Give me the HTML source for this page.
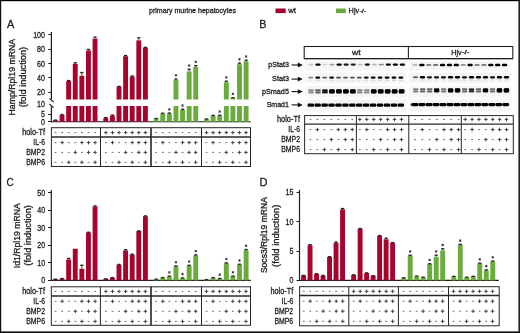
<!DOCTYPE html>
<html><head><meta charset="utf-8"><title>primary murine hepatocytes</title>
<style>
html,body{margin:0;padding:0;background:#fff;}
body{width:520px;height:333px;overflow:hidden;}
svg{display:block;font-family:"Liberation Sans",sans-serif;will-change:transform;}
svg text{stroke:#1e1e1e;stroke-width:0.3px;}
</style></head><body>
<svg width="520" height="333" viewBox="0 0 520 333" font-family="Liberation Sans, sans-serif">
<rect x="0" y="0" width="520" height="333" fill="#ffffff"/>
<rect x="0" y="0" width="520" height="1.2" fill="#000"/>
<rect x="0" y="0" width="1.2" height="333" fill="#111"/>
<rect x="518.4" y="0" width="1.6" height="333" fill="#222"/>
<rect x="0" y="331.4" width="520" height="1.6" fill="#111"/>
<text x="149" y="12.6" font-size="7.8" textLength="87" lengthAdjust="spacingAndGlyphs" fill="#1e1e1e">primary murine hepatocytes</text>
<rect x="275.5" y="8.5" width="10.2" height="4.6" fill="#a6032f"/>
<text x="288.2" y="13.4" font-size="7.8" textLength="7.8" lengthAdjust="spacingAndGlyphs" fill="#1e1e1e">wt</text>
<rect x="336" y="8.5" width="9.8" height="4.6" fill="#6aab3e"/>
<text x="348.6" y="13.4" font-size="8" textLength="10.6" lengthAdjust="spacingAndGlyphs" fill="#1e1e1e">Hjv</text>
<text x="359.4" y="12.6" font-size="5" textLength="6.6" lengthAdjust="spacingAndGlyphs" fill="#1e1e1e">-/-</text>
<text x="7" y="27.8" font-size="11.5" textLength="7.3" lengthAdjust="spacingAndGlyphs" fill="#1e1e1e">A</text>
<text x="259.2" y="27.9" font-size="11.5" textLength="7.2" lengthAdjust="spacingAndGlyphs" fill="#1e1e1e">B</text>
<text x="6.4" y="185.8" font-size="11.5" textLength="7.2" lengthAdjust="spacingAndGlyphs" fill="#1e1e1e">C</text>
<text x="259.4" y="185.9" font-size="11.5" textLength="8" lengthAdjust="spacingAndGlyphs" fill="#1e1e1e">D</text>
<g transform="translate(14.7,77.2) rotate(-90)">
<text x="0" y="0" font-size="8.6" text-anchor="middle" textLength="76.6" lengthAdjust="spacingAndGlyphs" fill="#1e1e1e">Hamp/Rpl19 mRNA</text>
</g>
<g transform="translate(25.9,77.1) rotate(-90)">
<text x="0" y="0" font-size="8.6" text-anchor="middle" textLength="60.5" lengthAdjust="spacingAndGlyphs" fill="#1e1e1e">(fold induction)</text>
</g>
<line x1="51.4" y1="32" x2="51.4" y2="99.6" stroke="#1e1e1e" stroke-width="1.2"/>
<line x1="51.4" y1="106.6" x2="51.4" y2="122.2" stroke="#1e1e1e" stroke-width="1.2"/>
<line x1="49.4" y1="98.4" x2="53.6" y2="102" stroke="#1e1e1e" stroke-width="1.1"/>
<line x1="49.4" y1="104" x2="53.6" y2="107.6" stroke="#1e1e1e" stroke-width="1.1"/>
<line x1="48.3" y1="34.5" x2="51.4" y2="34.5" stroke="#1e1e1e" stroke-width="1"/>
<text x="45" y="37.6" font-size="8.6" text-anchor="end" textLength="11.85" lengthAdjust="spacingAndGlyphs" fill="#1e1e1e">100</text>
<line x1="48.3" y1="49.5" x2="51.4" y2="49.5" stroke="#1e1e1e" stroke-width="1"/>
<text x="45" y="52.05" font-size="8.6" text-anchor="end" textLength="7.9" lengthAdjust="spacingAndGlyphs" fill="#1e1e1e">80</text>
<line x1="48.3" y1="63.5" x2="51.4" y2="63.5" stroke="#1e1e1e" stroke-width="1"/>
<text x="45" y="66.5" font-size="8.6" text-anchor="end" textLength="7.9" lengthAdjust="spacingAndGlyphs" fill="#1e1e1e">60</text>
<line x1="48.3" y1="77.5" x2="51.4" y2="77.5" stroke="#1e1e1e" stroke-width="1"/>
<text x="45" y="80.95" font-size="8.6" text-anchor="end" textLength="7.9" lengthAdjust="spacingAndGlyphs" fill="#1e1e1e">40</text>
<line x1="48.3" y1="92.5" x2="51.4" y2="92.5" stroke="#1e1e1e" stroke-width="1"/>
<text x="45" y="95.4" font-size="8.6" text-anchor="end" textLength="7.9" lengthAdjust="spacingAndGlyphs" fill="#1e1e1e">20</text>
<line x1="48" y1="114.5" x2="51.4" y2="114.5" stroke="#1e1e1e" stroke-width="1"/>
<text x="45" y="117" font-size="8.6" text-anchor="end" textLength="3.95" lengthAdjust="spacingAndGlyphs" fill="#1e1e1e">5</text>
<line x1="48" y1="121.5" x2="51.4" y2="121.5" stroke="#1e1e1e" stroke-width="1"/>
<text x="45" y="124.7" font-size="8.6" text-anchor="end" textLength="3.95" lengthAdjust="spacingAndGlyphs" fill="#1e1e1e">0</text>
<text x="45" y="106.6" font-size="8.6" text-anchor="end" textLength="7.9" lengthAdjust="spacingAndGlyphs" fill="#1e1e1e">10</text>
<line x1="50.9" y1="121.7" x2="250.8" y2="121.7" stroke="#1e1e1e" stroke-width="1.1"/>
<rect x="53" y="120.16" width="4.9" height="1.54" fill="#a6032f"/>
<rect x="53.85" y="119.4" width="3.2" height="1.3" fill="#222"/>
<rect x="59.6" y="115.08" width="4.9" height="6.62" fill="#a6032f"/>
<line x1="62.05" y1="114.15" x2="62.05" y2="115.08" stroke="#222" stroke-width="0.8"/>
<rect x="60.45" y="113.85" width="3.2" height="1.3" fill="#222"/>
<rect x="66.2" y="80.91" width="4.9" height="18.59" fill="#a6032f"/>
<rect x="66.2" y="106" width="4.9" height="15.7" fill="#a6032f"/>
<line x1="68.65" y1="80.19" x2="68.65" y2="80.91" stroke="#222" stroke-width="0.8"/>
<rect x="67.05" y="79.89" width="3.2" height="1.3" fill="#222"/>
<rect x="72.8" y="63.86" width="4.9" height="35.64" fill="#a6032f"/>
<rect x="72.8" y="106" width="4.9" height="15.7" fill="#a6032f"/>
<line x1="75.25" y1="62.42" x2="75.25" y2="63.86" stroke="#222" stroke-width="0.8"/>
<rect x="73.65" y="62.12" width="3.2" height="1.3" fill="#222"/>
<rect x="79.4" y="75.78" width="4.9" height="23.72" fill="#a6032f"/>
<rect x="79.4" y="106" width="4.9" height="15.7" fill="#a6032f"/>
<line x1="81.85" y1="72.17" x2="81.85" y2="75.78" stroke="#222" stroke-width="0.8"/>
<rect x="80.25" y="71.87" width="3.2" height="1.3" fill="#222"/>
<rect x="86" y="50.49" width="4.9" height="49.01" fill="#a6032f"/>
<rect x="86" y="106" width="4.9" height="15.7" fill="#a6032f"/>
<line x1="88.45" y1="49.05" x2="88.45" y2="50.49" stroke="#222" stroke-width="0.8"/>
<rect x="86.85" y="48.75" width="3.2" height="1.3" fill="#222"/>
<rect x="92.6" y="38.57" width="4.9" height="60.93" fill="#a6032f"/>
<rect x="92.6" y="106" width="4.9" height="15.7" fill="#a6032f"/>
<line x1="95.05" y1="36.77" x2="95.05" y2="38.57" stroke="#222" stroke-width="0.8"/>
<rect x="93.45" y="36.47" width="3.2" height="1.3" fill="#222"/>
<rect x="103.35" y="117.85" width="4.9" height="3.85" fill="#a6032f"/>
<line x1="105.8" y1="117.23" x2="105.8" y2="117.85" stroke="#222" stroke-width="0.8"/>
<rect x="104.2" y="116.93" width="3.2" height="1.3" fill="#222"/>
<rect x="109.95" y="115.54" width="4.9" height="6.16" fill="#a6032f"/>
<line x1="112.4" y1="114.77" x2="112.4" y2="115.54" stroke="#222" stroke-width="0.8"/>
<rect x="110.8" y="114.47" width="3.2" height="1.3" fill="#222"/>
<rect x="116.55" y="86.62" width="4.9" height="12.88" fill="#a6032f"/>
<rect x="116.55" y="106" width="4.9" height="15.7" fill="#a6032f"/>
<rect x="117.4" y="85.74" width="3.2" height="1.3" fill="#222"/>
<rect x="123.15" y="56.27" width="4.9" height="43.23" fill="#a6032f"/>
<rect x="123.15" y="106" width="4.9" height="15.7" fill="#a6032f"/>
<line x1="125.6" y1="55.19" x2="125.6" y2="56.27" stroke="#222" stroke-width="0.8"/>
<rect x="124" y="54.89" width="3.2" height="1.3" fill="#222"/>
<rect x="129.75" y="76.5" width="4.9" height="23" fill="#a6032f"/>
<rect x="129.75" y="106" width="4.9" height="15.7" fill="#a6032f"/>
<line x1="132.2" y1="75.64" x2="132.2" y2="76.5" stroke="#222" stroke-width="0.8"/>
<rect x="130.6" y="75.34" width="3.2" height="1.3" fill="#222"/>
<rect x="136.35" y="40.38" width="4.9" height="59.12" fill="#a6032f"/>
<rect x="136.35" y="106" width="4.9" height="15.7" fill="#a6032f"/>
<line x1="138.8" y1="37.49" x2="138.8" y2="40.38" stroke="#222" stroke-width="0.8"/>
<rect x="137.2" y="37.19" width="3.2" height="1.3" fill="#222"/>
<rect x="142.95" y="47.6" width="4.9" height="51.9" fill="#a6032f"/>
<rect x="142.95" y="106" width="4.9" height="15.7" fill="#a6032f"/>
<rect x="143.8" y="46.73" width="3.2" height="1.3" fill="#222"/>
<rect x="153.7" y="118.62" width="4.9" height="3.08" fill="#6aab3e"/>
<rect x="154.55" y="117.86" width="3.2" height="1.3" fill="#222"/>
<rect x="160.3" y="113.54" width="4.9" height="8.16" fill="#6aab3e"/>
<line x1="162.75" y1="112.92" x2="162.75" y2="113.54" stroke="#222" stroke-width="0.8"/>
<rect x="161.15" y="112.62" width="3.2" height="1.3" fill="#222"/>
<rect x="166.9" y="113.54" width="4.9" height="8.16" fill="#6aab3e"/>
<line x1="169.35" y1="112.77" x2="169.35" y2="113.54" stroke="#222" stroke-width="0.8"/>
<rect x="167.75" y="112.47" width="3.2" height="1.3" fill="#222"/>
<g stroke="#2a2a2a" stroke-width="0.85"><line x1="169.35" y1="108.12" x2="169.35" y2="110.62"/><line x1="168.22" y1="108.74" x2="170.47" y2="109.99"/><line x1="168.22" y1="109.99" x2="170.47" y2="108.74"/></g>
<rect x="173.5" y="80.12" width="4.9" height="19.38" fill="#6aab3e"/>
<rect x="173.5" y="106" width="4.9" height="15.7" fill="#6aab3e"/>
<line x1="175.95" y1="78.67" x2="175.95" y2="80.12" stroke="#222" stroke-width="0.8"/>
<rect x="174.35" y="78.37" width="3.2" height="1.3" fill="#222"/>
<g stroke="#2a2a2a" stroke-width="0.85"><line x1="175.95" y1="74.02" x2="175.95" y2="76.52"/><line x1="174.82" y1="74.65" x2="177.07" y2="75.9"/><line x1="174.82" y1="75.9" x2="177.07" y2="74.65"/></g>
<rect x="180.1" y="109.84" width="4.9" height="11.86" fill="#6aab3e"/>
<line x1="182.55" y1="108.92" x2="182.55" y2="109.84" stroke="#222" stroke-width="0.8"/>
<rect x="180.95" y="108.62" width="3.2" height="1.3" fill="#222"/>
<g stroke="#2a2a2a" stroke-width="0.85"><line x1="182.55" y1="104.27" x2="182.55" y2="106.77"/><line x1="181.42" y1="104.89" x2="183.67" y2="106.14"/><line x1="181.42" y1="106.14" x2="183.67" y2="104.89"/></g>
<rect x="186.7" y="71.45" width="4.9" height="28.05" fill="#6aab3e"/>
<rect x="186.7" y="106" width="4.9" height="15.7" fill="#6aab3e"/>
<line x1="189.15" y1="68.92" x2="189.15" y2="71.45" stroke="#222" stroke-width="0.8"/>
<rect x="187.55" y="68.62" width="3.2" height="1.3" fill="#222"/>
<g stroke="#2a2a2a" stroke-width="0.85"><line x1="189.15" y1="64.27" x2="189.15" y2="66.77"/><line x1="188.02" y1="64.89" x2="190.27" y2="66.14"/><line x1="188.02" y1="66.14" x2="190.27" y2="64.89"/></g>
<rect x="193.3" y="67.11" width="4.9" height="32.39" fill="#6aab3e"/>
<rect x="193.3" y="106" width="4.9" height="15.7" fill="#6aab3e"/>
<line x1="195.75" y1="65.31" x2="195.75" y2="67.11" stroke="#222" stroke-width="0.8"/>
<rect x="194.15" y="65.01" width="3.2" height="1.3" fill="#222"/>
<g stroke="#2a2a2a" stroke-width="0.85"><line x1="195.75" y1="60.66" x2="195.75" y2="63.16"/><line x1="194.62" y1="61.28" x2="196.87" y2="62.53"/><line x1="194.62" y1="62.53" x2="196.87" y2="61.28"/></g>
<rect x="204.05" y="119.08" width="4.9" height="2.62" fill="#6aab3e"/>
<rect x="204.9" y="118.32" width="3.2" height="1.3" fill="#222"/>
<rect x="210.65" y="115.69" width="4.9" height="6.01" fill="#6aab3e"/>
<line x1="213.1" y1="115.08" x2="213.1" y2="115.69" stroke="#222" stroke-width="0.8"/>
<rect x="211.5" y="114.78" width="3.2" height="1.3" fill="#222"/>
<rect x="217.25" y="115.69" width="4.9" height="6.01" fill="#6aab3e"/>
<line x1="219.7" y1="114.92" x2="219.7" y2="115.69" stroke="#222" stroke-width="0.8"/>
<rect x="218.1" y="114.62" width="3.2" height="1.3" fill="#222"/>
<g stroke="#2a2a2a" stroke-width="0.85"><line x1="219.7" y1="110.27" x2="219.7" y2="112.77"/><line x1="218.57" y1="110.9" x2="220.82" y2="112.15"/><line x1="218.57" y1="112.15" x2="220.82" y2="110.9"/></g>
<rect x="223.85" y="82.28" width="4.9" height="17.22" fill="#6aab3e"/>
<rect x="223.85" y="106" width="4.9" height="15.7" fill="#6aab3e"/>
<line x1="226.3" y1="80.84" x2="226.3" y2="82.28" stroke="#222" stroke-width="0.8"/>
<rect x="224.7" y="80.54" width="3.2" height="1.3" fill="#222"/>
<g stroke="#2a2a2a" stroke-width="0.85"><line x1="226.3" y1="76.19" x2="226.3" y2="78.69"/><line x1="225.18" y1="76.81" x2="227.43" y2="78.06"/><line x1="225.18" y1="78.06" x2="227.43" y2="76.81"/></g>
<rect x="230.45" y="97.82" width="4.9" height="1.68" fill="#6aab3e"/>
<rect x="230.45" y="106" width="4.9" height="15.7" fill="#6aab3e"/>
<rect x="231.3" y="97.01" width="3.2" height="1.3" fill="#222"/>
<g stroke="#2a2a2a" stroke-width="0.85"><line x1="232.9" y1="92.66" x2="232.9" y2="95.16"/><line x1="231.78" y1="93.29" x2="234.03" y2="94.54"/><line x1="231.78" y1="94.54" x2="234.03" y2="93.29"/></g>
<rect x="237.05" y="64.22" width="4.9" height="35.28" fill="#6aab3e"/>
<rect x="237.05" y="106" width="4.9" height="15.7" fill="#6aab3e"/>
<line x1="239.5" y1="62.78" x2="239.5" y2="64.22" stroke="#222" stroke-width="0.8"/>
<rect x="237.9" y="62.48" width="3.2" height="1.3" fill="#222"/>
<g stroke="#2a2a2a" stroke-width="0.85"><line x1="239.5" y1="58.13" x2="239.5" y2="60.63"/><line x1="238.38" y1="58.75" x2="240.62" y2="60"/><line x1="238.38" y1="60" x2="240.62" y2="58.75"/></g>
<rect x="243.65" y="61.33" width="4.9" height="38.17" fill="#6aab3e"/>
<rect x="243.65" y="106" width="4.9" height="15.7" fill="#6aab3e"/>
<line x1="246.1" y1="59.89" x2="246.1" y2="61.33" stroke="#222" stroke-width="0.8"/>
<rect x="244.5" y="59.59" width="3.2" height="1.3" fill="#222"/>
<g stroke="#2a2a2a" stroke-width="0.85"><line x1="246.1" y1="55.24" x2="246.1" y2="57.74"/><line x1="244.97" y1="55.86" x2="247.22" y2="57.11"/><line x1="244.97" y1="57.11" x2="247.22" y2="55.86"/></g>
<rect x="51.4" y="127.7" width="199.1" height="38.8" fill="none" stroke="#262626" stroke-width="1"/>
<line x1="51.4" y1="137" x2="250.5" y2="137" stroke="#2a2a2a" stroke-width="1.3"/>
<line x1="100.5" y1="127.7" x2="100.5" y2="166.5" stroke="#262626" stroke-width="1"/>
<line x1="151" y1="127.7" x2="151" y2="166.5" stroke="#262626" stroke-width="1.6"/>
<line x1="201.5" y1="127.7" x2="201.5" y2="166.5" stroke="#262626" stroke-width="1"/>
<text x="45" y="135.2" font-size="8.8" text-anchor="end" textLength="22.8" lengthAdjust="spacingAndGlyphs" fill="#1e1e1e">holo-Tf</text>
<text x="45" y="145.2" font-size="8.8" text-anchor="end" textLength="11.7" lengthAdjust="spacingAndGlyphs" fill="#1e1e1e">IL-6</text>
<text x="45" y="155" font-size="8.8" text-anchor="end" textLength="18.8" lengthAdjust="spacingAndGlyphs" fill="#1e1e1e">BMP2</text>
<text x="45" y="164.9" font-size="8.8" text-anchor="end" textLength="18.8" lengthAdjust="spacingAndGlyphs" fill="#1e1e1e">BMP6</text>
<line x1="54.7" y1="132.6" x2="56.5" y2="132.6" stroke="#444" stroke-width="0.8"/>
<line x1="61.28" y1="132.6" x2="63.08" y2="132.6" stroke="#444" stroke-width="0.8"/>
<line x1="67.86" y1="132.6" x2="69.66" y2="132.6" stroke="#444" stroke-width="0.8"/>
<line x1="74.44" y1="132.6" x2="76.24" y2="132.6" stroke="#444" stroke-width="0.8"/>
<line x1="81.02" y1="132.6" x2="82.82" y2="132.6" stroke="#444" stroke-width="0.8"/>
<line x1="87.6" y1="132.6" x2="89.4" y2="132.6" stroke="#444" stroke-width="0.8"/>
<line x1="94.18" y1="132.6" x2="95.98" y2="132.6" stroke="#444" stroke-width="0.8"/>
<line x1="54.7" y1="142.6" x2="56.5" y2="142.6" stroke="#444" stroke-width="0.8"/>
<line x1="60.38" y1="142.6" x2="63.98" y2="142.6" stroke="#333" stroke-width="0.9"/>
<line x1="62.18" y1="140.8" x2="62.18" y2="144.4" stroke="#333" stroke-width="0.9"/>
<line x1="67.86" y1="142.6" x2="69.66" y2="142.6" stroke="#444" stroke-width="0.8"/>
<line x1="74.44" y1="142.6" x2="76.24" y2="142.6" stroke="#444" stroke-width="0.8"/>
<line x1="80.12" y1="142.6" x2="83.72" y2="142.6" stroke="#333" stroke-width="0.9"/>
<line x1="81.92" y1="140.8" x2="81.92" y2="144.4" stroke="#333" stroke-width="0.9"/>
<line x1="86.7" y1="142.6" x2="90.3" y2="142.6" stroke="#333" stroke-width="0.9"/>
<line x1="88.5" y1="140.8" x2="88.5" y2="144.4" stroke="#333" stroke-width="0.9"/>
<line x1="93.28" y1="142.6" x2="96.88" y2="142.6" stroke="#333" stroke-width="0.9"/>
<line x1="95.08" y1="140.8" x2="95.08" y2="144.4" stroke="#333" stroke-width="0.9"/>
<line x1="54.7" y1="152.4" x2="56.5" y2="152.4" stroke="#444" stroke-width="0.8"/>
<line x1="61.28" y1="152.4" x2="63.08" y2="152.4" stroke="#444" stroke-width="0.8"/>
<line x1="67.86" y1="152.4" x2="69.66" y2="152.4" stroke="#444" stroke-width="0.8"/>
<line x1="73.54" y1="152.4" x2="77.14" y2="152.4" stroke="#333" stroke-width="0.9"/>
<line x1="75.34" y1="150.6" x2="75.34" y2="154.2" stroke="#333" stroke-width="0.9"/>
<line x1="81.02" y1="152.4" x2="82.82" y2="152.4" stroke="#444" stroke-width="0.8"/>
<line x1="86.7" y1="152.4" x2="90.3" y2="152.4" stroke="#333" stroke-width="0.9"/>
<line x1="88.5" y1="150.6" x2="88.5" y2="154.2" stroke="#333" stroke-width="0.9"/>
<line x1="93.28" y1="152.4" x2="96.88" y2="152.4" stroke="#333" stroke-width="0.9"/>
<line x1="95.08" y1="150.6" x2="95.08" y2="154.2" stroke="#333" stroke-width="0.9"/>
<line x1="54.7" y1="162.3" x2="56.5" y2="162.3" stroke="#444" stroke-width="0.8"/>
<line x1="61.28" y1="162.3" x2="63.08" y2="162.3" stroke="#444" stroke-width="0.8"/>
<line x1="66.96" y1="162.3" x2="70.56" y2="162.3" stroke="#333" stroke-width="0.9"/>
<line x1="68.76" y1="160.5" x2="68.76" y2="164.1" stroke="#333" stroke-width="0.9"/>
<line x1="74.44" y1="162.3" x2="76.24" y2="162.3" stroke="#444" stroke-width="0.8"/>
<line x1="80.12" y1="162.3" x2="83.72" y2="162.3" stroke="#333" stroke-width="0.9"/>
<line x1="81.92" y1="160.5" x2="81.92" y2="164.1" stroke="#333" stroke-width="0.9"/>
<line x1="87.6" y1="162.3" x2="89.4" y2="162.3" stroke="#444" stroke-width="0.8"/>
<line x1="93.28" y1="162.3" x2="96.88" y2="162.3" stroke="#333" stroke-width="0.9"/>
<line x1="95.08" y1="160.5" x2="95.08" y2="164.1" stroke="#333" stroke-width="0.9"/>
<line x1="104.1" y1="132.6" x2="107.7" y2="132.6" stroke="#333" stroke-width="0.9"/>
<line x1="105.9" y1="130.8" x2="105.9" y2="134.4" stroke="#333" stroke-width="0.9"/>
<line x1="110.68" y1="132.6" x2="114.28" y2="132.6" stroke="#333" stroke-width="0.9"/>
<line x1="112.48" y1="130.8" x2="112.48" y2="134.4" stroke="#333" stroke-width="0.9"/>
<line x1="117.26" y1="132.6" x2="120.86" y2="132.6" stroke="#333" stroke-width="0.9"/>
<line x1="119.06" y1="130.8" x2="119.06" y2="134.4" stroke="#333" stroke-width="0.9"/>
<line x1="123.84" y1="132.6" x2="127.44" y2="132.6" stroke="#333" stroke-width="0.9"/>
<line x1="125.64" y1="130.8" x2="125.64" y2="134.4" stroke="#333" stroke-width="0.9"/>
<line x1="130.42" y1="132.6" x2="134.02" y2="132.6" stroke="#333" stroke-width="0.9"/>
<line x1="132.22" y1="130.8" x2="132.22" y2="134.4" stroke="#333" stroke-width="0.9"/>
<line x1="137" y1="132.6" x2="140.6" y2="132.6" stroke="#333" stroke-width="0.9"/>
<line x1="138.8" y1="130.8" x2="138.8" y2="134.4" stroke="#333" stroke-width="0.9"/>
<line x1="143.58" y1="132.6" x2="147.18" y2="132.6" stroke="#333" stroke-width="0.9"/>
<line x1="145.38" y1="130.8" x2="145.38" y2="134.4" stroke="#333" stroke-width="0.9"/>
<line x1="105" y1="142.6" x2="106.8" y2="142.6" stroke="#444" stroke-width="0.8"/>
<line x1="110.68" y1="142.6" x2="114.28" y2="142.6" stroke="#333" stroke-width="0.9"/>
<line x1="112.48" y1="140.8" x2="112.48" y2="144.4" stroke="#333" stroke-width="0.9"/>
<line x1="118.16" y1="142.6" x2="119.96" y2="142.6" stroke="#444" stroke-width="0.8"/>
<line x1="124.74" y1="142.6" x2="126.54" y2="142.6" stroke="#444" stroke-width="0.8"/>
<line x1="130.42" y1="142.6" x2="134.02" y2="142.6" stroke="#333" stroke-width="0.9"/>
<line x1="132.22" y1="140.8" x2="132.22" y2="144.4" stroke="#333" stroke-width="0.9"/>
<line x1="137" y1="142.6" x2="140.6" y2="142.6" stroke="#333" stroke-width="0.9"/>
<line x1="138.8" y1="140.8" x2="138.8" y2="144.4" stroke="#333" stroke-width="0.9"/>
<line x1="143.58" y1="142.6" x2="147.18" y2="142.6" stroke="#333" stroke-width="0.9"/>
<line x1="145.38" y1="140.8" x2="145.38" y2="144.4" stroke="#333" stroke-width="0.9"/>
<line x1="105" y1="152.4" x2="106.8" y2="152.4" stroke="#444" stroke-width="0.8"/>
<line x1="111.58" y1="152.4" x2="113.38" y2="152.4" stroke="#444" stroke-width="0.8"/>
<line x1="118.16" y1="152.4" x2="119.96" y2="152.4" stroke="#444" stroke-width="0.8"/>
<line x1="123.84" y1="152.4" x2="127.44" y2="152.4" stroke="#333" stroke-width="0.9"/>
<line x1="125.64" y1="150.6" x2="125.64" y2="154.2" stroke="#333" stroke-width="0.9"/>
<line x1="131.32" y1="152.4" x2="133.12" y2="152.4" stroke="#444" stroke-width="0.8"/>
<line x1="137" y1="152.4" x2="140.6" y2="152.4" stroke="#333" stroke-width="0.9"/>
<line x1="138.8" y1="150.6" x2="138.8" y2="154.2" stroke="#333" stroke-width="0.9"/>
<line x1="143.58" y1="152.4" x2="147.18" y2="152.4" stroke="#333" stroke-width="0.9"/>
<line x1="145.38" y1="150.6" x2="145.38" y2="154.2" stroke="#333" stroke-width="0.9"/>
<line x1="105" y1="162.3" x2="106.8" y2="162.3" stroke="#444" stroke-width="0.8"/>
<line x1="111.58" y1="162.3" x2="113.38" y2="162.3" stroke="#444" stroke-width="0.8"/>
<line x1="117.26" y1="162.3" x2="120.86" y2="162.3" stroke="#333" stroke-width="0.9"/>
<line x1="119.06" y1="160.5" x2="119.06" y2="164.1" stroke="#333" stroke-width="0.9"/>
<line x1="124.74" y1="162.3" x2="126.54" y2="162.3" stroke="#444" stroke-width="0.8"/>
<line x1="130.42" y1="162.3" x2="134.02" y2="162.3" stroke="#333" stroke-width="0.9"/>
<line x1="132.22" y1="160.5" x2="132.22" y2="164.1" stroke="#333" stroke-width="0.9"/>
<line x1="137.9" y1="162.3" x2="139.7" y2="162.3" stroke="#444" stroke-width="0.8"/>
<line x1="143.58" y1="162.3" x2="147.18" y2="162.3" stroke="#333" stroke-width="0.9"/>
<line x1="145.38" y1="160.5" x2="145.38" y2="164.1" stroke="#333" stroke-width="0.9"/>
<line x1="155.3" y1="132.6" x2="157.1" y2="132.6" stroke="#444" stroke-width="0.8"/>
<line x1="161.88" y1="132.6" x2="163.68" y2="132.6" stroke="#444" stroke-width="0.8"/>
<line x1="168.46" y1="132.6" x2="170.26" y2="132.6" stroke="#444" stroke-width="0.8"/>
<line x1="175.04" y1="132.6" x2="176.84" y2="132.6" stroke="#444" stroke-width="0.8"/>
<line x1="181.62" y1="132.6" x2="183.42" y2="132.6" stroke="#444" stroke-width="0.8"/>
<line x1="188.2" y1="132.6" x2="190" y2="132.6" stroke="#444" stroke-width="0.8"/>
<line x1="194.78" y1="132.6" x2="196.58" y2="132.6" stroke="#444" stroke-width="0.8"/>
<line x1="155.3" y1="142.6" x2="157.1" y2="142.6" stroke="#444" stroke-width="0.8"/>
<line x1="160.98" y1="142.6" x2="164.58" y2="142.6" stroke="#333" stroke-width="0.9"/>
<line x1="162.78" y1="140.8" x2="162.78" y2="144.4" stroke="#333" stroke-width="0.9"/>
<line x1="168.46" y1="142.6" x2="170.26" y2="142.6" stroke="#444" stroke-width="0.8"/>
<line x1="175.04" y1="142.6" x2="176.84" y2="142.6" stroke="#444" stroke-width="0.8"/>
<line x1="180.72" y1="142.6" x2="184.32" y2="142.6" stroke="#333" stroke-width="0.9"/>
<line x1="182.52" y1="140.8" x2="182.52" y2="144.4" stroke="#333" stroke-width="0.9"/>
<line x1="187.3" y1="142.6" x2="190.9" y2="142.6" stroke="#333" stroke-width="0.9"/>
<line x1="189.1" y1="140.8" x2="189.1" y2="144.4" stroke="#333" stroke-width="0.9"/>
<line x1="193.88" y1="142.6" x2="197.48" y2="142.6" stroke="#333" stroke-width="0.9"/>
<line x1="195.68" y1="140.8" x2="195.68" y2="144.4" stroke="#333" stroke-width="0.9"/>
<line x1="155.3" y1="152.4" x2="157.1" y2="152.4" stroke="#444" stroke-width="0.8"/>
<line x1="161.88" y1="152.4" x2="163.68" y2="152.4" stroke="#444" stroke-width="0.8"/>
<line x1="168.46" y1="152.4" x2="170.26" y2="152.4" stroke="#444" stroke-width="0.8"/>
<line x1="174.14" y1="152.4" x2="177.74" y2="152.4" stroke="#333" stroke-width="0.9"/>
<line x1="175.94" y1="150.6" x2="175.94" y2="154.2" stroke="#333" stroke-width="0.9"/>
<line x1="181.62" y1="152.4" x2="183.42" y2="152.4" stroke="#444" stroke-width="0.8"/>
<line x1="187.3" y1="152.4" x2="190.9" y2="152.4" stroke="#333" stroke-width="0.9"/>
<line x1="189.1" y1="150.6" x2="189.1" y2="154.2" stroke="#333" stroke-width="0.9"/>
<line x1="193.88" y1="152.4" x2="197.48" y2="152.4" stroke="#333" stroke-width="0.9"/>
<line x1="195.68" y1="150.6" x2="195.68" y2="154.2" stroke="#333" stroke-width="0.9"/>
<line x1="155.3" y1="162.3" x2="157.1" y2="162.3" stroke="#444" stroke-width="0.8"/>
<line x1="161.88" y1="162.3" x2="163.68" y2="162.3" stroke="#444" stroke-width="0.8"/>
<line x1="167.56" y1="162.3" x2="171.16" y2="162.3" stroke="#333" stroke-width="0.9"/>
<line x1="169.36" y1="160.5" x2="169.36" y2="164.1" stroke="#333" stroke-width="0.9"/>
<line x1="175.04" y1="162.3" x2="176.84" y2="162.3" stroke="#444" stroke-width="0.8"/>
<line x1="180.72" y1="162.3" x2="184.32" y2="162.3" stroke="#333" stroke-width="0.9"/>
<line x1="182.52" y1="160.5" x2="182.52" y2="164.1" stroke="#333" stroke-width="0.9"/>
<line x1="188.2" y1="162.3" x2="190" y2="162.3" stroke="#444" stroke-width="0.8"/>
<line x1="193.88" y1="162.3" x2="197.48" y2="162.3" stroke="#333" stroke-width="0.9"/>
<line x1="195.68" y1="160.5" x2="195.68" y2="164.1" stroke="#333" stroke-width="0.9"/>
<line x1="204.7" y1="132.6" x2="208.3" y2="132.6" stroke="#333" stroke-width="0.9"/>
<line x1="206.5" y1="130.8" x2="206.5" y2="134.4" stroke="#333" stroke-width="0.9"/>
<line x1="211.28" y1="132.6" x2="214.88" y2="132.6" stroke="#333" stroke-width="0.9"/>
<line x1="213.08" y1="130.8" x2="213.08" y2="134.4" stroke="#333" stroke-width="0.9"/>
<line x1="217.86" y1="132.6" x2="221.46" y2="132.6" stroke="#333" stroke-width="0.9"/>
<line x1="219.66" y1="130.8" x2="219.66" y2="134.4" stroke="#333" stroke-width="0.9"/>
<line x1="224.44" y1="132.6" x2="228.04" y2="132.6" stroke="#333" stroke-width="0.9"/>
<line x1="226.24" y1="130.8" x2="226.24" y2="134.4" stroke="#333" stroke-width="0.9"/>
<line x1="231.02" y1="132.6" x2="234.62" y2="132.6" stroke="#333" stroke-width="0.9"/>
<line x1="232.82" y1="130.8" x2="232.82" y2="134.4" stroke="#333" stroke-width="0.9"/>
<line x1="237.6" y1="132.6" x2="241.2" y2="132.6" stroke="#333" stroke-width="0.9"/>
<line x1="239.4" y1="130.8" x2="239.4" y2="134.4" stroke="#333" stroke-width="0.9"/>
<line x1="244.18" y1="132.6" x2="247.78" y2="132.6" stroke="#333" stroke-width="0.9"/>
<line x1="245.98" y1="130.8" x2="245.98" y2="134.4" stroke="#333" stroke-width="0.9"/>
<line x1="205.6" y1="142.6" x2="207.4" y2="142.6" stroke="#444" stroke-width="0.8"/>
<line x1="211.28" y1="142.6" x2="214.88" y2="142.6" stroke="#333" stroke-width="0.9"/>
<line x1="213.08" y1="140.8" x2="213.08" y2="144.4" stroke="#333" stroke-width="0.9"/>
<line x1="218.76" y1="142.6" x2="220.56" y2="142.6" stroke="#444" stroke-width="0.8"/>
<line x1="225.34" y1="142.6" x2="227.14" y2="142.6" stroke="#444" stroke-width="0.8"/>
<line x1="231.02" y1="142.6" x2="234.62" y2="142.6" stroke="#333" stroke-width="0.9"/>
<line x1="232.82" y1="140.8" x2="232.82" y2="144.4" stroke="#333" stroke-width="0.9"/>
<line x1="237.6" y1="142.6" x2="241.2" y2="142.6" stroke="#333" stroke-width="0.9"/>
<line x1="239.4" y1="140.8" x2="239.4" y2="144.4" stroke="#333" stroke-width="0.9"/>
<line x1="244.18" y1="142.6" x2="247.78" y2="142.6" stroke="#333" stroke-width="0.9"/>
<line x1="245.98" y1="140.8" x2="245.98" y2="144.4" stroke="#333" stroke-width="0.9"/>
<line x1="205.6" y1="152.4" x2="207.4" y2="152.4" stroke="#444" stroke-width="0.8"/>
<line x1="212.18" y1="152.4" x2="213.98" y2="152.4" stroke="#444" stroke-width="0.8"/>
<line x1="218.76" y1="152.4" x2="220.56" y2="152.4" stroke="#444" stroke-width="0.8"/>
<line x1="224.44" y1="152.4" x2="228.04" y2="152.4" stroke="#333" stroke-width="0.9"/>
<line x1="226.24" y1="150.6" x2="226.24" y2="154.2" stroke="#333" stroke-width="0.9"/>
<line x1="231.92" y1="152.4" x2="233.72" y2="152.4" stroke="#444" stroke-width="0.8"/>
<line x1="237.6" y1="152.4" x2="241.2" y2="152.4" stroke="#333" stroke-width="0.9"/>
<line x1="239.4" y1="150.6" x2="239.4" y2="154.2" stroke="#333" stroke-width="0.9"/>
<line x1="244.18" y1="152.4" x2="247.78" y2="152.4" stroke="#333" stroke-width="0.9"/>
<line x1="245.98" y1="150.6" x2="245.98" y2="154.2" stroke="#333" stroke-width="0.9"/>
<line x1="205.6" y1="162.3" x2="207.4" y2="162.3" stroke="#444" stroke-width="0.8"/>
<line x1="212.18" y1="162.3" x2="213.98" y2="162.3" stroke="#444" stroke-width="0.8"/>
<line x1="217.86" y1="162.3" x2="221.46" y2="162.3" stroke="#333" stroke-width="0.9"/>
<line x1="219.66" y1="160.5" x2="219.66" y2="164.1" stroke="#333" stroke-width="0.9"/>
<line x1="225.34" y1="162.3" x2="227.14" y2="162.3" stroke="#444" stroke-width="0.8"/>
<line x1="231.02" y1="162.3" x2="234.62" y2="162.3" stroke="#333" stroke-width="0.9"/>
<line x1="232.82" y1="160.5" x2="232.82" y2="164.1" stroke="#333" stroke-width="0.9"/>
<line x1="238.5" y1="162.3" x2="240.3" y2="162.3" stroke="#444" stroke-width="0.8"/>
<line x1="244.18" y1="162.3" x2="247.78" y2="162.3" stroke="#333" stroke-width="0.9"/>
<line x1="245.98" y1="160.5" x2="245.98" y2="164.1" stroke="#333" stroke-width="0.9"/>
<g transform="translate(19.5,235.7) rotate(-90)">
<text x="0" y="0" font-size="8.6" text-anchor="middle" textLength="65" lengthAdjust="spacingAndGlyphs" fill="#1e1e1e">Id1/Rpl19 mRNA</text>
</g>
<g transform="translate(30.5,235.4) rotate(-90)">
<text x="0" y="0" font-size="8.6" text-anchor="middle" textLength="60.5" lengthAdjust="spacingAndGlyphs" fill="#1e1e1e">(fold induction)</text>
</g>
<line x1="51.3" y1="190" x2="51.3" y2="280.9" stroke="#1e1e1e" stroke-width="1.2"/>
<line x1="48" y1="192.5" x2="51.3" y2="192.5" stroke="#1e1e1e" stroke-width="1"/>
<text x="45.2" y="195.55" font-size="8.6" text-anchor="end" textLength="7.9" lengthAdjust="spacingAndGlyphs" fill="#1e1e1e">50</text>
<line x1="48" y1="210.5" x2="51.3" y2="210.5" stroke="#1e1e1e" stroke-width="1"/>
<text x="45.2" y="213.12" font-size="8.6" text-anchor="end" textLength="7.9" lengthAdjust="spacingAndGlyphs" fill="#1e1e1e">40</text>
<line x1="48" y1="227.5" x2="51.3" y2="227.5" stroke="#1e1e1e" stroke-width="1"/>
<text x="45.2" y="230.69" font-size="8.6" text-anchor="end" textLength="7.9" lengthAdjust="spacingAndGlyphs" fill="#1e1e1e">30</text>
<line x1="48" y1="245.5" x2="51.3" y2="245.5" stroke="#1e1e1e" stroke-width="1"/>
<text x="45.2" y="248.26" font-size="8.6" text-anchor="end" textLength="7.9" lengthAdjust="spacingAndGlyphs" fill="#1e1e1e">20</text>
<line x1="48" y1="262.5" x2="51.3" y2="262.5" stroke="#1e1e1e" stroke-width="1"/>
<text x="45.2" y="265.83" font-size="8.6" text-anchor="end" textLength="7.9" lengthAdjust="spacingAndGlyphs" fill="#1e1e1e">10</text>
<line x1="48" y1="280.5" x2="51.3" y2="280.5" stroke="#1e1e1e" stroke-width="1"/>
<text x="45.2" y="283.4" font-size="8.6" text-anchor="end" textLength="3.95" lengthAdjust="spacingAndGlyphs" fill="#1e1e1e">0</text>
<line x1="50.8" y1="280.4" x2="250.8" y2="280.4" stroke="#1e1e1e" stroke-width="1.1"/>
<rect x="53" y="279.17" width="4.9" height="1.23" fill="#a6032f"/>
<rect x="53.85" y="278.52" width="3.2" height="1.3" fill="#222"/>
<rect x="59.6" y="278.64" width="4.9" height="1.76" fill="#a6032f"/>
<rect x="60.45" y="277.82" width="3.2" height="1.3" fill="#222"/>
<rect x="66.2" y="259.49" width="4.9" height="20.91" fill="#a6032f"/>
<line x1="68.65" y1="258.09" x2="68.65" y2="259.49" stroke="#222" stroke-width="0.8"/>
<rect x="67.05" y="257.79" width="3.2" height="1.3" fill="#222"/>
<rect x="72.8" y="248.77" width="4.9" height="31.63" fill="#a6032f"/>
<rect x="79.4" y="268.8" width="4.9" height="11.6" fill="#a6032f"/>
<line x1="81.85" y1="264.94" x2="81.85" y2="268.8" stroke="#222" stroke-width="0.8"/>
<rect x="80.25" y="264.64" width="3.2" height="1.3" fill="#222"/>
<rect x="86" y="232.61" width="4.9" height="47.79" fill="#a6032f"/>
<line x1="88.45" y1="231.91" x2="88.45" y2="232.61" stroke="#222" stroke-width="0.8"/>
<rect x="86.85" y="231.61" width="3.2" height="1.3" fill="#222"/>
<rect x="92.6" y="206.43" width="4.9" height="73.97" fill="#a6032f"/>
<line x1="95.05" y1="205.55" x2="95.05" y2="206.43" stroke="#222" stroke-width="0.8"/>
<rect x="93.45" y="205.25" width="3.2" height="1.3" fill="#222"/>
<rect x="103.35" y="278.82" width="4.9" height="1.58" fill="#a6032f"/>
<rect x="104.2" y="278.17" width="3.2" height="1.3" fill="#222"/>
<rect x="109.95" y="277.76" width="4.9" height="2.64" fill="#a6032f"/>
<rect x="110.8" y="276.94" width="3.2" height="1.3" fill="#222"/>
<rect x="116.55" y="264.76" width="4.9" height="15.64" fill="#a6032f"/>
<line x1="119" y1="264.06" x2="119" y2="264.76" stroke="#222" stroke-width="0.8"/>
<rect x="117.4" y="263.76" width="3.2" height="1.3" fill="#222"/>
<rect x="123.15" y="250.53" width="4.9" height="29.87" fill="#a6032f"/>
<line x1="125.6" y1="249.3" x2="125.6" y2="250.53" stroke="#222" stroke-width="0.8"/>
<rect x="124" y="249" width="3.2" height="1.3" fill="#222"/>
<rect x="129.75" y="254.57" width="4.9" height="25.83" fill="#a6032f"/>
<line x1="132.2" y1="253.87" x2="132.2" y2="254.57" stroke="#222" stroke-width="0.8"/>
<rect x="130.6" y="253.57" width="3.2" height="1.3" fill="#222"/>
<rect x="136.35" y="231.03" width="4.9" height="49.37" fill="#a6032f"/>
<rect x="137.2" y="230.2" width="3.2" height="1.3" fill="#222"/>
<rect x="142.95" y="216.27" width="4.9" height="64.13" fill="#a6032f"/>
<line x1="145.4" y1="215.57" x2="145.4" y2="216.27" stroke="#222" stroke-width="0.8"/>
<rect x="143.8" y="215.27" width="3.2" height="1.3" fill="#222"/>
<rect x="153.7" y="279.17" width="4.9" height="1.23" fill="#6aab3e"/>
<rect x="154.55" y="278.52" width="3.2" height="1.3" fill="#222"/>
<rect x="160.3" y="277.76" width="4.9" height="2.64" fill="#6aab3e"/>
<rect x="161.15" y="276.94" width="3.2" height="1.3" fill="#222"/>
<rect x="166.9" y="276.36" width="4.9" height="4.04" fill="#6aab3e"/>
<rect x="167.75" y="275.53" width="3.2" height="1.3" fill="#222"/>
<g stroke="#2a2a2a" stroke-width="0.85"><line x1="169.35" y1="271.18" x2="169.35" y2="273.68"/><line x1="168.22" y1="271.81" x2="170.47" y2="273.06"/><line x1="168.22" y1="273.06" x2="170.47" y2="271.81"/></g>
<rect x="173.5" y="266.34" width="4.9" height="14.06" fill="#6aab3e"/>
<line x1="175.95" y1="265.64" x2="175.95" y2="266.34" stroke="#222" stroke-width="0.8"/>
<rect x="174.35" y="265.34" width="3.2" height="1.3" fill="#222"/>
<g stroke="#2a2a2a" stroke-width="0.85"><line x1="175.95" y1="260.99" x2="175.95" y2="263.49"/><line x1="174.82" y1="261.62" x2="177.07" y2="262.87"/><line x1="174.82" y1="262.87" x2="177.07" y2="261.62"/></g>
<rect x="180.1" y="278.12" width="4.9" height="2.28" fill="#6aab3e"/>
<rect x="180.95" y="277.29" width="3.2" height="1.3" fill="#222"/>
<g stroke="#2a2a2a" stroke-width="0.85"><line x1="182.55" y1="272.94" x2="182.55" y2="275.44"/><line x1="181.42" y1="273.56" x2="183.67" y2="274.81"/><line x1="181.42" y1="274.81" x2="183.67" y2="273.56"/></g>
<rect x="186.7" y="265.64" width="4.9" height="14.76" fill="#6aab3e"/>
<line x1="189.15" y1="264.94" x2="189.15" y2="265.64" stroke="#222" stroke-width="0.8"/>
<rect x="187.55" y="264.64" width="3.2" height="1.3" fill="#222"/>
<g stroke="#2a2a2a" stroke-width="0.85"><line x1="189.15" y1="260.29" x2="189.15" y2="262.79"/><line x1="188.02" y1="260.91" x2="190.27" y2="262.16"/><line x1="188.02" y1="262.16" x2="190.27" y2="260.91"/></g>
<rect x="193.3" y="255.45" width="4.9" height="24.95" fill="#6aab3e"/>
<line x1="195.75" y1="254.57" x2="195.75" y2="255.45" stroke="#222" stroke-width="0.8"/>
<rect x="194.15" y="254.27" width="3.2" height="1.3" fill="#222"/>
<g stroke="#2a2a2a" stroke-width="0.85"><line x1="195.75" y1="249.92" x2="195.75" y2="252.42"/><line x1="194.62" y1="250.55" x2="196.87" y2="251.8"/><line x1="194.62" y1="251.8" x2="196.87" y2="250.55"/></g>
<rect x="204.05" y="279.52" width="4.9" height="0.88" fill="#6aab3e"/>
<rect x="204.9" y="279.05" width="3.2" height="1.3" fill="#222"/>
<rect x="210.65" y="277.76" width="4.9" height="2.64" fill="#6aab3e"/>
<rect x="211.5" y="276.94" width="3.2" height="1.3" fill="#222"/>
<rect x="217.25" y="278.47" width="4.9" height="1.93" fill="#6aab3e"/>
<rect x="218.1" y="277.82" width="3.2" height="1.3" fill="#222"/>
<g stroke="#2a2a2a" stroke-width="0.85"><line x1="219.7" y1="273.47" x2="219.7" y2="275.97"/><line x1="218.57" y1="274.09" x2="220.82" y2="275.34"/><line x1="218.57" y1="275.34" x2="220.82" y2="274.09"/></g>
<rect x="223.85" y="263.18" width="4.9" height="17.22" fill="#6aab3e"/>
<line x1="226.3" y1="262.48" x2="226.3" y2="263.18" stroke="#222" stroke-width="0.8"/>
<rect x="224.7" y="262.18" width="3.2" height="1.3" fill="#222"/>
<g stroke="#2a2a2a" stroke-width="0.85"><line x1="226.3" y1="257.83" x2="226.3" y2="260.33"/><line x1="225.18" y1="258.45" x2="227.43" y2="259.7"/><line x1="225.18" y1="259.7" x2="227.43" y2="258.45"/></g>
<rect x="230.45" y="276.18" width="4.9" height="4.22" fill="#6aab3e"/>
<rect x="231.3" y="275.36" width="3.2" height="1.3" fill="#222"/>
<g stroke="#2a2a2a" stroke-width="0.85"><line x1="232.9" y1="271.01" x2="232.9" y2="273.51"/><line x1="231.78" y1="271.63" x2="234.03" y2="272.88"/><line x1="231.78" y1="272.88" x2="234.03" y2="271.63"/></g>
<rect x="237.05" y="264.59" width="4.9" height="15.81" fill="#6aab3e"/>
<line x1="239.5" y1="263.88" x2="239.5" y2="264.59" stroke="#222" stroke-width="0.8"/>
<rect x="237.9" y="263.58" width="3.2" height="1.3" fill="#222"/>
<g stroke="#2a2a2a" stroke-width="0.85"><line x1="239.5" y1="259.23" x2="239.5" y2="261.73"/><line x1="238.38" y1="259.86" x2="240.62" y2="261.11"/><line x1="238.38" y1="261.11" x2="240.62" y2="259.86"/></g>
<rect x="243.65" y="250.18" width="4.9" height="30.22" fill="#6aab3e"/>
<line x1="246.1" y1="249.13" x2="246.1" y2="250.18" stroke="#222" stroke-width="0.8"/>
<rect x="244.5" y="248.83" width="3.2" height="1.3" fill="#222"/>
<g stroke="#2a2a2a" stroke-width="0.85"><line x1="246.1" y1="244.48" x2="246.1" y2="246.98"/><line x1="244.97" y1="245.1" x2="247.22" y2="246.35"/><line x1="244.97" y1="246.35" x2="247.22" y2="245.1"/></g>
<rect x="51.3" y="286.8" width="199.2" height="38.5" fill="none" stroke="#262626" stroke-width="1"/>
<line x1="51.3" y1="296" x2="250.5" y2="296" stroke="#2a2a2a" stroke-width="1.3"/>
<line x1="100.4" y1="286.8" x2="100.4" y2="325.3" stroke="#262626" stroke-width="1"/>
<line x1="151" y1="286.8" x2="151" y2="325.3" stroke="#262626" stroke-width="1.6"/>
<line x1="201.5" y1="286.8" x2="201.5" y2="325.3" stroke="#262626" stroke-width="1"/>
<text x="45" y="294" font-size="8.8" text-anchor="end" textLength="22.8" lengthAdjust="spacingAndGlyphs" fill="#1e1e1e">holo-Tf</text>
<text x="45" y="303.9" font-size="8.8" text-anchor="end" textLength="11.7" lengthAdjust="spacingAndGlyphs" fill="#1e1e1e">IL-6</text>
<text x="45" y="313.9" font-size="8.8" text-anchor="end" textLength="18.8" lengthAdjust="spacingAndGlyphs" fill="#1e1e1e">BMP2</text>
<text x="45" y="324" font-size="8.8" text-anchor="end" textLength="18.8" lengthAdjust="spacingAndGlyphs" fill="#1e1e1e">BMP6</text>
<line x1="54.7" y1="291.4" x2="56.5" y2="291.4" stroke="#444" stroke-width="0.8"/>
<line x1="61.28" y1="291.4" x2="63.08" y2="291.4" stroke="#444" stroke-width="0.8"/>
<line x1="67.86" y1="291.4" x2="69.66" y2="291.4" stroke="#444" stroke-width="0.8"/>
<line x1="74.44" y1="291.4" x2="76.24" y2="291.4" stroke="#444" stroke-width="0.8"/>
<line x1="81.02" y1="291.4" x2="82.82" y2="291.4" stroke="#444" stroke-width="0.8"/>
<line x1="87.6" y1="291.4" x2="89.4" y2="291.4" stroke="#444" stroke-width="0.8"/>
<line x1="94.18" y1="291.4" x2="95.98" y2="291.4" stroke="#444" stroke-width="0.8"/>
<line x1="54.7" y1="301.3" x2="56.5" y2="301.3" stroke="#444" stroke-width="0.8"/>
<line x1="60.38" y1="301.3" x2="63.98" y2="301.3" stroke="#333" stroke-width="0.9"/>
<line x1="62.18" y1="299.5" x2="62.18" y2="303.1" stroke="#333" stroke-width="0.9"/>
<line x1="67.86" y1="301.3" x2="69.66" y2="301.3" stroke="#444" stroke-width="0.8"/>
<line x1="74.44" y1="301.3" x2="76.24" y2="301.3" stroke="#444" stroke-width="0.8"/>
<line x1="80.12" y1="301.3" x2="83.72" y2="301.3" stroke="#333" stroke-width="0.9"/>
<line x1="81.92" y1="299.5" x2="81.92" y2="303.1" stroke="#333" stroke-width="0.9"/>
<line x1="86.7" y1="301.3" x2="90.3" y2="301.3" stroke="#333" stroke-width="0.9"/>
<line x1="88.5" y1="299.5" x2="88.5" y2="303.1" stroke="#333" stroke-width="0.9"/>
<line x1="93.28" y1="301.3" x2="96.88" y2="301.3" stroke="#333" stroke-width="0.9"/>
<line x1="95.08" y1="299.5" x2="95.08" y2="303.1" stroke="#333" stroke-width="0.9"/>
<line x1="54.7" y1="311.3" x2="56.5" y2="311.3" stroke="#444" stroke-width="0.8"/>
<line x1="61.28" y1="311.3" x2="63.08" y2="311.3" stroke="#444" stroke-width="0.8"/>
<line x1="67.86" y1="311.3" x2="69.66" y2="311.3" stroke="#444" stroke-width="0.8"/>
<line x1="73.54" y1="311.3" x2="77.14" y2="311.3" stroke="#333" stroke-width="0.9"/>
<line x1="75.34" y1="309.5" x2="75.34" y2="313.1" stroke="#333" stroke-width="0.9"/>
<line x1="81.02" y1="311.3" x2="82.82" y2="311.3" stroke="#444" stroke-width="0.8"/>
<line x1="86.7" y1="311.3" x2="90.3" y2="311.3" stroke="#333" stroke-width="0.9"/>
<line x1="88.5" y1="309.5" x2="88.5" y2="313.1" stroke="#333" stroke-width="0.9"/>
<line x1="93.28" y1="311.3" x2="96.88" y2="311.3" stroke="#333" stroke-width="0.9"/>
<line x1="95.08" y1="309.5" x2="95.08" y2="313.1" stroke="#333" stroke-width="0.9"/>
<line x1="54.7" y1="321.4" x2="56.5" y2="321.4" stroke="#444" stroke-width="0.8"/>
<line x1="61.28" y1="321.4" x2="63.08" y2="321.4" stroke="#444" stroke-width="0.8"/>
<line x1="66.96" y1="321.4" x2="70.56" y2="321.4" stroke="#333" stroke-width="0.9"/>
<line x1="68.76" y1="319.6" x2="68.76" y2="323.2" stroke="#333" stroke-width="0.9"/>
<line x1="74.44" y1="321.4" x2="76.24" y2="321.4" stroke="#444" stroke-width="0.8"/>
<line x1="80.12" y1="321.4" x2="83.72" y2="321.4" stroke="#333" stroke-width="0.9"/>
<line x1="81.92" y1="319.6" x2="81.92" y2="323.2" stroke="#333" stroke-width="0.9"/>
<line x1="87.6" y1="321.4" x2="89.4" y2="321.4" stroke="#444" stroke-width="0.8"/>
<line x1="93.28" y1="321.4" x2="96.88" y2="321.4" stroke="#333" stroke-width="0.9"/>
<line x1="95.08" y1="319.6" x2="95.08" y2="323.2" stroke="#333" stroke-width="0.9"/>
<line x1="104.1" y1="291.4" x2="107.7" y2="291.4" stroke="#333" stroke-width="0.9"/>
<line x1="105.9" y1="289.6" x2="105.9" y2="293.2" stroke="#333" stroke-width="0.9"/>
<line x1="110.68" y1="291.4" x2="114.28" y2="291.4" stroke="#333" stroke-width="0.9"/>
<line x1="112.48" y1="289.6" x2="112.48" y2="293.2" stroke="#333" stroke-width="0.9"/>
<line x1="117.26" y1="291.4" x2="120.86" y2="291.4" stroke="#333" stroke-width="0.9"/>
<line x1="119.06" y1="289.6" x2="119.06" y2="293.2" stroke="#333" stroke-width="0.9"/>
<line x1="123.84" y1="291.4" x2="127.44" y2="291.4" stroke="#333" stroke-width="0.9"/>
<line x1="125.64" y1="289.6" x2="125.64" y2="293.2" stroke="#333" stroke-width="0.9"/>
<line x1="130.42" y1="291.4" x2="134.02" y2="291.4" stroke="#333" stroke-width="0.9"/>
<line x1="132.22" y1="289.6" x2="132.22" y2="293.2" stroke="#333" stroke-width="0.9"/>
<line x1="137" y1="291.4" x2="140.6" y2="291.4" stroke="#333" stroke-width="0.9"/>
<line x1="138.8" y1="289.6" x2="138.8" y2="293.2" stroke="#333" stroke-width="0.9"/>
<line x1="143.58" y1="291.4" x2="147.18" y2="291.4" stroke="#333" stroke-width="0.9"/>
<line x1="145.38" y1="289.6" x2="145.38" y2="293.2" stroke="#333" stroke-width="0.9"/>
<line x1="105" y1="301.3" x2="106.8" y2="301.3" stroke="#444" stroke-width="0.8"/>
<line x1="110.68" y1="301.3" x2="114.28" y2="301.3" stroke="#333" stroke-width="0.9"/>
<line x1="112.48" y1="299.5" x2="112.48" y2="303.1" stroke="#333" stroke-width="0.9"/>
<line x1="118.16" y1="301.3" x2="119.96" y2="301.3" stroke="#444" stroke-width="0.8"/>
<line x1="124.74" y1="301.3" x2="126.54" y2="301.3" stroke="#444" stroke-width="0.8"/>
<line x1="130.42" y1="301.3" x2="134.02" y2="301.3" stroke="#333" stroke-width="0.9"/>
<line x1="132.22" y1="299.5" x2="132.22" y2="303.1" stroke="#333" stroke-width="0.9"/>
<line x1="137" y1="301.3" x2="140.6" y2="301.3" stroke="#333" stroke-width="0.9"/>
<line x1="138.8" y1="299.5" x2="138.8" y2="303.1" stroke="#333" stroke-width="0.9"/>
<line x1="143.58" y1="301.3" x2="147.18" y2="301.3" stroke="#333" stroke-width="0.9"/>
<line x1="145.38" y1="299.5" x2="145.38" y2="303.1" stroke="#333" stroke-width="0.9"/>
<line x1="105" y1="311.3" x2="106.8" y2="311.3" stroke="#444" stroke-width="0.8"/>
<line x1="111.58" y1="311.3" x2="113.38" y2="311.3" stroke="#444" stroke-width="0.8"/>
<line x1="118.16" y1="311.3" x2="119.96" y2="311.3" stroke="#444" stroke-width="0.8"/>
<line x1="123.84" y1="311.3" x2="127.44" y2="311.3" stroke="#333" stroke-width="0.9"/>
<line x1="125.64" y1="309.5" x2="125.64" y2="313.1" stroke="#333" stroke-width="0.9"/>
<line x1="131.32" y1="311.3" x2="133.12" y2="311.3" stroke="#444" stroke-width="0.8"/>
<line x1="137" y1="311.3" x2="140.6" y2="311.3" stroke="#333" stroke-width="0.9"/>
<line x1="138.8" y1="309.5" x2="138.8" y2="313.1" stroke="#333" stroke-width="0.9"/>
<line x1="143.58" y1="311.3" x2="147.18" y2="311.3" stroke="#333" stroke-width="0.9"/>
<line x1="145.38" y1="309.5" x2="145.38" y2="313.1" stroke="#333" stroke-width="0.9"/>
<line x1="105" y1="321.4" x2="106.8" y2="321.4" stroke="#444" stroke-width="0.8"/>
<line x1="111.58" y1="321.4" x2="113.38" y2="321.4" stroke="#444" stroke-width="0.8"/>
<line x1="117.26" y1="321.4" x2="120.86" y2="321.4" stroke="#333" stroke-width="0.9"/>
<line x1="119.06" y1="319.6" x2="119.06" y2="323.2" stroke="#333" stroke-width="0.9"/>
<line x1="124.74" y1="321.4" x2="126.54" y2="321.4" stroke="#444" stroke-width="0.8"/>
<line x1="130.42" y1="321.4" x2="134.02" y2="321.4" stroke="#333" stroke-width="0.9"/>
<line x1="132.22" y1="319.6" x2="132.22" y2="323.2" stroke="#333" stroke-width="0.9"/>
<line x1="137.9" y1="321.4" x2="139.7" y2="321.4" stroke="#444" stroke-width="0.8"/>
<line x1="143.58" y1="321.4" x2="147.18" y2="321.4" stroke="#333" stroke-width="0.9"/>
<line x1="145.38" y1="319.6" x2="145.38" y2="323.2" stroke="#333" stroke-width="0.9"/>
<line x1="155.3" y1="291.4" x2="157.1" y2="291.4" stroke="#444" stroke-width="0.8"/>
<line x1="161.88" y1="291.4" x2="163.68" y2="291.4" stroke="#444" stroke-width="0.8"/>
<line x1="168.46" y1="291.4" x2="170.26" y2="291.4" stroke="#444" stroke-width="0.8"/>
<line x1="175.04" y1="291.4" x2="176.84" y2="291.4" stroke="#444" stroke-width="0.8"/>
<line x1="181.62" y1="291.4" x2="183.42" y2="291.4" stroke="#444" stroke-width="0.8"/>
<line x1="188.2" y1="291.4" x2="190" y2="291.4" stroke="#444" stroke-width="0.8"/>
<line x1="194.78" y1="291.4" x2="196.58" y2="291.4" stroke="#444" stroke-width="0.8"/>
<line x1="155.3" y1="301.3" x2="157.1" y2="301.3" stroke="#444" stroke-width="0.8"/>
<line x1="160.98" y1="301.3" x2="164.58" y2="301.3" stroke="#333" stroke-width="0.9"/>
<line x1="162.78" y1="299.5" x2="162.78" y2="303.1" stroke="#333" stroke-width="0.9"/>
<line x1="168.46" y1="301.3" x2="170.26" y2="301.3" stroke="#444" stroke-width="0.8"/>
<line x1="175.04" y1="301.3" x2="176.84" y2="301.3" stroke="#444" stroke-width="0.8"/>
<line x1="180.72" y1="301.3" x2="184.32" y2="301.3" stroke="#333" stroke-width="0.9"/>
<line x1="182.52" y1="299.5" x2="182.52" y2="303.1" stroke="#333" stroke-width="0.9"/>
<line x1="187.3" y1="301.3" x2="190.9" y2="301.3" stroke="#333" stroke-width="0.9"/>
<line x1="189.1" y1="299.5" x2="189.1" y2="303.1" stroke="#333" stroke-width="0.9"/>
<line x1="193.88" y1="301.3" x2="197.48" y2="301.3" stroke="#333" stroke-width="0.9"/>
<line x1="195.68" y1="299.5" x2="195.68" y2="303.1" stroke="#333" stroke-width="0.9"/>
<line x1="155.3" y1="311.3" x2="157.1" y2="311.3" stroke="#444" stroke-width="0.8"/>
<line x1="161.88" y1="311.3" x2="163.68" y2="311.3" stroke="#444" stroke-width="0.8"/>
<line x1="168.46" y1="311.3" x2="170.26" y2="311.3" stroke="#444" stroke-width="0.8"/>
<line x1="174.14" y1="311.3" x2="177.74" y2="311.3" stroke="#333" stroke-width="0.9"/>
<line x1="175.94" y1="309.5" x2="175.94" y2="313.1" stroke="#333" stroke-width="0.9"/>
<line x1="181.62" y1="311.3" x2="183.42" y2="311.3" stroke="#444" stroke-width="0.8"/>
<line x1="187.3" y1="311.3" x2="190.9" y2="311.3" stroke="#333" stroke-width="0.9"/>
<line x1="189.1" y1="309.5" x2="189.1" y2="313.1" stroke="#333" stroke-width="0.9"/>
<line x1="193.88" y1="311.3" x2="197.48" y2="311.3" stroke="#333" stroke-width="0.9"/>
<line x1="195.68" y1="309.5" x2="195.68" y2="313.1" stroke="#333" stroke-width="0.9"/>
<line x1="155.3" y1="321.4" x2="157.1" y2="321.4" stroke="#444" stroke-width="0.8"/>
<line x1="161.88" y1="321.4" x2="163.68" y2="321.4" stroke="#444" stroke-width="0.8"/>
<line x1="167.56" y1="321.4" x2="171.16" y2="321.4" stroke="#333" stroke-width="0.9"/>
<line x1="169.36" y1="319.6" x2="169.36" y2="323.2" stroke="#333" stroke-width="0.9"/>
<line x1="175.04" y1="321.4" x2="176.84" y2="321.4" stroke="#444" stroke-width="0.8"/>
<line x1="180.72" y1="321.4" x2="184.32" y2="321.4" stroke="#333" stroke-width="0.9"/>
<line x1="182.52" y1="319.6" x2="182.52" y2="323.2" stroke="#333" stroke-width="0.9"/>
<line x1="188.2" y1="321.4" x2="190" y2="321.4" stroke="#444" stroke-width="0.8"/>
<line x1="193.88" y1="321.4" x2="197.48" y2="321.4" stroke="#333" stroke-width="0.9"/>
<line x1="195.68" y1="319.6" x2="195.68" y2="323.2" stroke="#333" stroke-width="0.9"/>
<line x1="204.7" y1="291.4" x2="208.3" y2="291.4" stroke="#333" stroke-width="0.9"/>
<line x1="206.5" y1="289.6" x2="206.5" y2="293.2" stroke="#333" stroke-width="0.9"/>
<line x1="211.28" y1="291.4" x2="214.88" y2="291.4" stroke="#333" stroke-width="0.9"/>
<line x1="213.08" y1="289.6" x2="213.08" y2="293.2" stroke="#333" stroke-width="0.9"/>
<line x1="217.86" y1="291.4" x2="221.46" y2="291.4" stroke="#333" stroke-width="0.9"/>
<line x1="219.66" y1="289.6" x2="219.66" y2="293.2" stroke="#333" stroke-width="0.9"/>
<line x1="224.44" y1="291.4" x2="228.04" y2="291.4" stroke="#333" stroke-width="0.9"/>
<line x1="226.24" y1="289.6" x2="226.24" y2="293.2" stroke="#333" stroke-width="0.9"/>
<line x1="231.02" y1="291.4" x2="234.62" y2="291.4" stroke="#333" stroke-width="0.9"/>
<line x1="232.82" y1="289.6" x2="232.82" y2="293.2" stroke="#333" stroke-width="0.9"/>
<line x1="237.6" y1="291.4" x2="241.2" y2="291.4" stroke="#333" stroke-width="0.9"/>
<line x1="239.4" y1="289.6" x2="239.4" y2="293.2" stroke="#333" stroke-width="0.9"/>
<line x1="244.18" y1="291.4" x2="247.78" y2="291.4" stroke="#333" stroke-width="0.9"/>
<line x1="245.98" y1="289.6" x2="245.98" y2="293.2" stroke="#333" stroke-width="0.9"/>
<line x1="205.6" y1="301.3" x2="207.4" y2="301.3" stroke="#444" stroke-width="0.8"/>
<line x1="211.28" y1="301.3" x2="214.88" y2="301.3" stroke="#333" stroke-width="0.9"/>
<line x1="213.08" y1="299.5" x2="213.08" y2="303.1" stroke="#333" stroke-width="0.9"/>
<line x1="218.76" y1="301.3" x2="220.56" y2="301.3" stroke="#444" stroke-width="0.8"/>
<line x1="225.34" y1="301.3" x2="227.14" y2="301.3" stroke="#444" stroke-width="0.8"/>
<line x1="231.02" y1="301.3" x2="234.62" y2="301.3" stroke="#333" stroke-width="0.9"/>
<line x1="232.82" y1="299.5" x2="232.82" y2="303.1" stroke="#333" stroke-width="0.9"/>
<line x1="237.6" y1="301.3" x2="241.2" y2="301.3" stroke="#333" stroke-width="0.9"/>
<line x1="239.4" y1="299.5" x2="239.4" y2="303.1" stroke="#333" stroke-width="0.9"/>
<line x1="244.18" y1="301.3" x2="247.78" y2="301.3" stroke="#333" stroke-width="0.9"/>
<line x1="245.98" y1="299.5" x2="245.98" y2="303.1" stroke="#333" stroke-width="0.9"/>
<line x1="205.6" y1="311.3" x2="207.4" y2="311.3" stroke="#444" stroke-width="0.8"/>
<line x1="212.18" y1="311.3" x2="213.98" y2="311.3" stroke="#444" stroke-width="0.8"/>
<line x1="218.76" y1="311.3" x2="220.56" y2="311.3" stroke="#444" stroke-width="0.8"/>
<line x1="224.44" y1="311.3" x2="228.04" y2="311.3" stroke="#333" stroke-width="0.9"/>
<line x1="226.24" y1="309.5" x2="226.24" y2="313.1" stroke="#333" stroke-width="0.9"/>
<line x1="231.92" y1="311.3" x2="233.72" y2="311.3" stroke="#444" stroke-width="0.8"/>
<line x1="237.6" y1="311.3" x2="241.2" y2="311.3" stroke="#333" stroke-width="0.9"/>
<line x1="239.4" y1="309.5" x2="239.4" y2="313.1" stroke="#333" stroke-width="0.9"/>
<line x1="244.18" y1="311.3" x2="247.78" y2="311.3" stroke="#333" stroke-width="0.9"/>
<line x1="245.98" y1="309.5" x2="245.98" y2="313.1" stroke="#333" stroke-width="0.9"/>
<line x1="205.6" y1="321.4" x2="207.4" y2="321.4" stroke="#444" stroke-width="0.8"/>
<line x1="212.18" y1="321.4" x2="213.98" y2="321.4" stroke="#444" stroke-width="0.8"/>
<line x1="217.86" y1="321.4" x2="221.46" y2="321.4" stroke="#333" stroke-width="0.9"/>
<line x1="219.66" y1="319.6" x2="219.66" y2="323.2" stroke="#333" stroke-width="0.9"/>
<line x1="225.34" y1="321.4" x2="227.14" y2="321.4" stroke="#444" stroke-width="0.8"/>
<line x1="231.02" y1="321.4" x2="234.62" y2="321.4" stroke="#333" stroke-width="0.9"/>
<line x1="232.82" y1="319.6" x2="232.82" y2="323.2" stroke="#333" stroke-width="0.9"/>
<line x1="238.5" y1="321.4" x2="240.3" y2="321.4" stroke="#444" stroke-width="0.8"/>
<line x1="244.18" y1="321.4" x2="247.78" y2="321.4" stroke="#333" stroke-width="0.9"/>
<line x1="245.98" y1="319.6" x2="245.98" y2="323.2" stroke="#333" stroke-width="0.9"/>
<g transform="translate(267.2,235.1) rotate(-90)">
<text x="0" y="0" font-size="8.6" text-anchor="middle" textLength="76" lengthAdjust="spacingAndGlyphs" fill="#1e1e1e">Socs3/Rpl19 mRNA</text>
</g>
<g transform="translate(278.6,235.8) rotate(-90)">
<text x="0" y="0" font-size="8.6" text-anchor="middle" textLength="62.2" lengthAdjust="spacingAndGlyphs" fill="#1e1e1e">(fold induction)</text>
</g>
<line x1="299.5" y1="189.9" x2="299.5" y2="280.9" stroke="#1e1e1e" stroke-width="1.2"/>
<line x1="296.5" y1="192.5" x2="299.5" y2="192.5" stroke="#1e1e1e" stroke-width="1"/>
<text x="293.4" y="195.35" font-size="8.6" text-anchor="end" textLength="7.9" lengthAdjust="spacingAndGlyphs" fill="#1e1e1e">15</text>
<line x1="296.5" y1="221.5" x2="299.5" y2="221.5" stroke="#1e1e1e" stroke-width="1"/>
<text x="293.4" y="224.7" font-size="8.6" text-anchor="end" textLength="7.9" lengthAdjust="spacingAndGlyphs" fill="#1e1e1e">10</text>
<line x1="296.5" y1="251.5" x2="299.5" y2="251.5" stroke="#1e1e1e" stroke-width="1"/>
<text x="293.4" y="254.05" font-size="8.6" text-anchor="end" textLength="3.95" lengthAdjust="spacingAndGlyphs" fill="#1e1e1e">5</text>
<line x1="296.5" y1="280.5" x2="299.5" y2="280.5" stroke="#1e1e1e" stroke-width="1"/>
<text x="293.4" y="283.4" font-size="8.6" text-anchor="end" textLength="3.95" lengthAdjust="spacingAndGlyphs" fill="#1e1e1e">0</text>
<line x1="299" y1="280.4" x2="498.8" y2="280.4" stroke="#1e1e1e" stroke-width="1.1"/>
<rect x="301.1" y="275.41" width="4.9" height="4.99" fill="#a6032f"/>
<rect x="301.95" y="274.82" width="3.2" height="1.3" fill="#222"/>
<rect x="307.6" y="245.18" width="4.9" height="35.22" fill="#a6032f"/>
<line x1="310.05" y1="244.3" x2="310.05" y2="245.18" stroke="#222" stroke-width="0.8"/>
<rect x="308.45" y="244" width="3.2" height="1.3" fill="#222"/>
<rect x="314.1" y="273.94" width="4.9" height="6.46" fill="#a6032f"/>
<rect x="314.95" y="273.06" width="3.2" height="1.3" fill="#222"/>
<rect x="320.6" y="275.7" width="4.9" height="4.7" fill="#a6032f"/>
<rect x="321.45" y="274.82" width="3.2" height="1.3" fill="#222"/>
<rect x="327.1" y="256.92" width="4.9" height="23.48" fill="#a6032f"/>
<rect x="327.95" y="256.03" width="3.2" height="1.3" fill="#222"/>
<rect x="333.6" y="242.83" width="4.9" height="37.57" fill="#a6032f"/>
<line x1="336.05" y1="241.66" x2="336.05" y2="242.83" stroke="#222" stroke-width="0.8"/>
<rect x="334.45" y="241.36" width="3.2" height="1.3" fill="#222"/>
<rect x="340.1" y="209.37" width="4.9" height="71.03" fill="#a6032f"/>
<line x1="342.55" y1="208.2" x2="342.55" y2="209.37" stroke="#222" stroke-width="0.8"/>
<rect x="340.95" y="207.9" width="3.2" height="1.3" fill="#222"/>
<rect x="351.17" y="274.82" width="4.9" height="5.58" fill="#a6032f"/>
<rect x="352.02" y="274.23" width="3.2" height="1.3" fill="#222"/>
<rect x="357.67" y="228.74" width="4.9" height="51.66" fill="#a6032f"/>
<rect x="358.52" y="227.86" width="3.2" height="1.3" fill="#222"/>
<rect x="364.17" y="273.06" width="4.9" height="7.34" fill="#a6032f"/>
<rect x="365.02" y="272.18" width="3.2" height="1.3" fill="#222"/>
<rect x="370.67" y="275.7" width="4.9" height="4.7" fill="#a6032f"/>
<rect x="371.52" y="275.11" width="3.2" height="1.3" fill="#222"/>
<rect x="377.17" y="235.79" width="4.9" height="44.61" fill="#a6032f"/>
<rect x="378.02" y="234.9" width="3.2" height="1.3" fill="#222"/>
<rect x="383.67" y="239.31" width="4.9" height="41.09" fill="#a6032f"/>
<line x1="386.12" y1="237.84" x2="386.12" y2="239.31" stroke="#222" stroke-width="0.8"/>
<rect x="384.52" y="237.54" width="3.2" height="1.3" fill="#222"/>
<rect x="390.17" y="242.83" width="4.9" height="37.57" fill="#a6032f"/>
<rect x="391.02" y="241.94" width="3.2" height="1.3" fill="#222"/>
<rect x="401.24" y="277.76" width="4.9" height="2.64" fill="#6aab3e"/>
<rect x="402.09" y="277.16" width="3.2" height="1.3" fill="#222"/>
<rect x="407.74" y="255.45" width="4.9" height="24.95" fill="#6aab3e"/>
<rect x="408.59" y="254.57" width="3.2" height="1.3" fill="#222"/>
<g stroke="#2a2a2a" stroke-width="0.85"><line x1="410.19" y1="250.22" x2="410.19" y2="252.72"/><line x1="409.06" y1="250.84" x2="411.31" y2="252.09"/><line x1="409.06" y1="252.09" x2="411.31" y2="250.84"/></g>
<rect x="414.24" y="276.29" width="4.9" height="4.11" fill="#6aab3e"/>
<rect x="415.09" y="275.4" width="3.2" height="1.3" fill="#222"/>
<rect x="420.74" y="277.17" width="4.9" height="3.23" fill="#6aab3e"/>
<rect x="421.59" y="276.58" width="3.2" height="1.3" fill="#222"/>
<rect x="427.24" y="263.96" width="4.9" height="16.44" fill="#6aab3e"/>
<rect x="428.09" y="263.08" width="3.2" height="1.3" fill="#222"/>
<g stroke="#2a2a2a" stroke-width="0.85"><line x1="429.69" y1="258.73" x2="429.69" y2="261.23"/><line x1="428.56" y1="259.35" x2="430.81" y2="260.6"/><line x1="428.56" y1="260.6" x2="430.81" y2="259.35"/></g>
<rect x="433.74" y="256.92" width="4.9" height="23.48" fill="#6aab3e"/>
<line x1="436.19" y1="254.87" x2="436.19" y2="256.92" stroke="#222" stroke-width="0.8"/>
<rect x="434.59" y="254.57" width="3.2" height="1.3" fill="#222"/>
<g stroke="#2a2a2a" stroke-width="0.85"><line x1="436.19" y1="250.22" x2="436.19" y2="252.72"/><line x1="435.06" y1="250.84" x2="437.31" y2="252.09"/><line x1="435.06" y1="252.09" x2="437.31" y2="250.84"/></g>
<rect x="440.24" y="250.46" width="4.9" height="29.94" fill="#6aab3e"/>
<line x1="442.69" y1="248.41" x2="442.69" y2="250.46" stroke="#222" stroke-width="0.8"/>
<rect x="441.09" y="248.11" width="3.2" height="1.3" fill="#222"/>
<g stroke="#2a2a2a" stroke-width="0.85"><line x1="442.69" y1="243.76" x2="442.69" y2="246.26"/><line x1="441.56" y1="244.38" x2="443.81" y2="245.63"/><line x1="441.56" y1="245.63" x2="443.81" y2="244.38"/></g>
<rect x="451.31" y="276.29" width="4.9" height="4.11" fill="#6aab3e"/>
<rect x="452.16" y="275.7" width="3.2" height="1.3" fill="#222"/>
<rect x="457.81" y="244.59" width="4.9" height="35.81" fill="#6aab3e"/>
<rect x="458.66" y="243.71" width="3.2" height="1.3" fill="#222"/>
<g stroke="#2a2a2a" stroke-width="0.85"><line x1="460.26" y1="239.36" x2="460.26" y2="241.86"/><line x1="459.14" y1="239.98" x2="461.39" y2="241.23"/><line x1="459.14" y1="241.23" x2="461.39" y2="239.98"/></g>
<rect x="464.31" y="277.17" width="4.9" height="3.23" fill="#6aab3e"/>
<rect x="465.16" y="276.58" width="3.2" height="1.3" fill="#222"/>
<rect x="470.81" y="276.29" width="4.9" height="4.11" fill="#6aab3e"/>
<rect x="471.66" y="275.7" width="3.2" height="1.3" fill="#222"/>
<rect x="477.31" y="263.38" width="4.9" height="17.02" fill="#6aab3e"/>
<rect x="478.16" y="262.49" width="3.2" height="1.3" fill="#222"/>
<g stroke="#2a2a2a" stroke-width="0.85"><line x1="479.76" y1="258.14" x2="479.76" y2="260.64"/><line x1="478.64" y1="258.76" x2="480.89" y2="260.01"/><line x1="478.64" y1="260.01" x2="480.89" y2="258.76"/></g>
<rect x="483.81" y="270.42" width="4.9" height="9.98" fill="#6aab3e"/>
<line x1="486.26" y1="269.54" x2="486.26" y2="270.42" stroke="#222" stroke-width="0.8"/>
<rect x="484.66" y="269.24" width="3.2" height="1.3" fill="#222"/>
<g stroke="#2a2a2a" stroke-width="0.85"><line x1="486.26" y1="264.89" x2="486.26" y2="267.39"/><line x1="485.14" y1="265.52" x2="487.39" y2="266.77"/><line x1="485.14" y1="266.77" x2="487.39" y2="265.52"/></g>
<rect x="490.31" y="261.62" width="4.9" height="18.78" fill="#6aab3e"/>
<line x1="492.76" y1="260.74" x2="492.76" y2="261.62" stroke="#222" stroke-width="0.8"/>
<rect x="491.16" y="260.44" width="3.2" height="1.3" fill="#222"/>
<g stroke="#2a2a2a" stroke-width="0.85"><line x1="492.76" y1="256.09" x2="492.76" y2="258.59"/><line x1="491.64" y1="256.71" x2="493.89" y2="257.96"/><line x1="491.64" y1="257.96" x2="493.89" y2="256.71"/></g>
<rect x="299.6" y="286.7" width="199.6" height="39.1" fill="none" stroke="#262626" stroke-width="1"/>
<line x1="299.6" y1="295.5" x2="499.2" y2="295.5" stroke="#2a2a2a" stroke-width="1.3"/>
<line x1="348.8" y1="286.7" x2="348.8" y2="325.8" stroke="#262626" stroke-width="1"/>
<line x1="398.4" y1="286.7" x2="398.4" y2="325.8" stroke="#262626" stroke-width="1"/>
<line x1="448.5" y1="286.7" x2="448.5" y2="325.8" stroke="#262626" stroke-width="1"/>
<text x="293.2" y="293.9" font-size="8.8" text-anchor="end" textLength="22.8" lengthAdjust="spacingAndGlyphs" fill="#1e1e1e">holo-Tf</text>
<text x="293.2" y="303.8" font-size="8.8" text-anchor="end" textLength="11.7" lengthAdjust="spacingAndGlyphs" fill="#1e1e1e">IL-6</text>
<text x="293.2" y="313.8" font-size="8.8" text-anchor="end" textLength="18.8" lengthAdjust="spacingAndGlyphs" fill="#1e1e1e">BMP2</text>
<text x="293.2" y="323.9" font-size="8.8" text-anchor="end" textLength="18.8" lengthAdjust="spacingAndGlyphs" fill="#1e1e1e">BMP6</text>
<line x1="302.8" y1="291.3" x2="304.6" y2="291.3" stroke="#444" stroke-width="0.8"/>
<line x1="309.3" y1="291.3" x2="311.1" y2="291.3" stroke="#444" stroke-width="0.8"/>
<line x1="315.8" y1="291.3" x2="317.6" y2="291.3" stroke="#444" stroke-width="0.8"/>
<line x1="322.3" y1="291.3" x2="324.1" y2="291.3" stroke="#444" stroke-width="0.8"/>
<line x1="328.8" y1="291.3" x2="330.6" y2="291.3" stroke="#444" stroke-width="0.8"/>
<line x1="335.3" y1="291.3" x2="337.1" y2="291.3" stroke="#444" stroke-width="0.8"/>
<line x1="341.8" y1="291.3" x2="343.6" y2="291.3" stroke="#444" stroke-width="0.8"/>
<line x1="302.8" y1="301.2" x2="304.6" y2="301.2" stroke="#444" stroke-width="0.8"/>
<line x1="308.4" y1="301.2" x2="312" y2="301.2" stroke="#333" stroke-width="0.9"/>
<line x1="310.2" y1="299.4" x2="310.2" y2="303" stroke="#333" stroke-width="0.9"/>
<line x1="315.8" y1="301.2" x2="317.6" y2="301.2" stroke="#444" stroke-width="0.8"/>
<line x1="322.3" y1="301.2" x2="324.1" y2="301.2" stroke="#444" stroke-width="0.8"/>
<line x1="327.9" y1="301.2" x2="331.5" y2="301.2" stroke="#333" stroke-width="0.9"/>
<line x1="329.7" y1="299.4" x2="329.7" y2="303" stroke="#333" stroke-width="0.9"/>
<line x1="334.4" y1="301.2" x2="338" y2="301.2" stroke="#333" stroke-width="0.9"/>
<line x1="336.2" y1="299.4" x2="336.2" y2="303" stroke="#333" stroke-width="0.9"/>
<line x1="340.9" y1="301.2" x2="344.5" y2="301.2" stroke="#333" stroke-width="0.9"/>
<line x1="342.7" y1="299.4" x2="342.7" y2="303" stroke="#333" stroke-width="0.9"/>
<line x1="302.8" y1="311.2" x2="304.6" y2="311.2" stroke="#444" stroke-width="0.8"/>
<line x1="309.3" y1="311.2" x2="311.1" y2="311.2" stroke="#444" stroke-width="0.8"/>
<line x1="315.8" y1="311.2" x2="317.6" y2="311.2" stroke="#444" stroke-width="0.8"/>
<line x1="321.4" y1="311.2" x2="325" y2="311.2" stroke="#333" stroke-width="0.9"/>
<line x1="323.2" y1="309.4" x2="323.2" y2="313" stroke="#333" stroke-width="0.9"/>
<line x1="328.8" y1="311.2" x2="330.6" y2="311.2" stroke="#444" stroke-width="0.8"/>
<line x1="334.4" y1="311.2" x2="338" y2="311.2" stroke="#333" stroke-width="0.9"/>
<line x1="336.2" y1="309.4" x2="336.2" y2="313" stroke="#333" stroke-width="0.9"/>
<line x1="340.9" y1="311.2" x2="344.5" y2="311.2" stroke="#333" stroke-width="0.9"/>
<line x1="342.7" y1="309.4" x2="342.7" y2="313" stroke="#333" stroke-width="0.9"/>
<line x1="302.8" y1="321.3" x2="304.6" y2="321.3" stroke="#444" stroke-width="0.8"/>
<line x1="309.3" y1="321.3" x2="311.1" y2="321.3" stroke="#444" stroke-width="0.8"/>
<line x1="314.9" y1="321.3" x2="318.5" y2="321.3" stroke="#333" stroke-width="0.9"/>
<line x1="316.7" y1="319.5" x2="316.7" y2="323.1" stroke="#333" stroke-width="0.9"/>
<line x1="322.3" y1="321.3" x2="324.1" y2="321.3" stroke="#444" stroke-width="0.8"/>
<line x1="327.9" y1="321.3" x2="331.5" y2="321.3" stroke="#333" stroke-width="0.9"/>
<line x1="329.7" y1="319.5" x2="329.7" y2="323.1" stroke="#333" stroke-width="0.9"/>
<line x1="335.3" y1="321.3" x2="337.1" y2="321.3" stroke="#444" stroke-width="0.8"/>
<line x1="340.9" y1="321.3" x2="344.5" y2="321.3" stroke="#333" stroke-width="0.9"/>
<line x1="342.7" y1="319.5" x2="342.7" y2="323.1" stroke="#333" stroke-width="0.9"/>
<line x1="351.85" y1="291.3" x2="355.45" y2="291.3" stroke="#333" stroke-width="0.9"/>
<line x1="353.65" y1="289.5" x2="353.65" y2="293.1" stroke="#333" stroke-width="0.9"/>
<line x1="358.35" y1="291.3" x2="361.95" y2="291.3" stroke="#333" stroke-width="0.9"/>
<line x1="360.15" y1="289.5" x2="360.15" y2="293.1" stroke="#333" stroke-width="0.9"/>
<line x1="364.85" y1="291.3" x2="368.45" y2="291.3" stroke="#333" stroke-width="0.9"/>
<line x1="366.65" y1="289.5" x2="366.65" y2="293.1" stroke="#333" stroke-width="0.9"/>
<line x1="371.35" y1="291.3" x2="374.95" y2="291.3" stroke="#333" stroke-width="0.9"/>
<line x1="373.15" y1="289.5" x2="373.15" y2="293.1" stroke="#333" stroke-width="0.9"/>
<line x1="377.85" y1="291.3" x2="381.45" y2="291.3" stroke="#333" stroke-width="0.9"/>
<line x1="379.65" y1="289.5" x2="379.65" y2="293.1" stroke="#333" stroke-width="0.9"/>
<line x1="384.35" y1="291.3" x2="387.95" y2="291.3" stroke="#333" stroke-width="0.9"/>
<line x1="386.15" y1="289.5" x2="386.15" y2="293.1" stroke="#333" stroke-width="0.9"/>
<line x1="390.85" y1="291.3" x2="394.45" y2="291.3" stroke="#333" stroke-width="0.9"/>
<line x1="392.65" y1="289.5" x2="392.65" y2="293.1" stroke="#333" stroke-width="0.9"/>
<line x1="352.75" y1="301.2" x2="354.55" y2="301.2" stroke="#444" stroke-width="0.8"/>
<line x1="358.35" y1="301.2" x2="361.95" y2="301.2" stroke="#333" stroke-width="0.9"/>
<line x1="360.15" y1="299.4" x2="360.15" y2="303" stroke="#333" stroke-width="0.9"/>
<line x1="365.75" y1="301.2" x2="367.55" y2="301.2" stroke="#444" stroke-width="0.8"/>
<line x1="372.25" y1="301.2" x2="374.05" y2="301.2" stroke="#444" stroke-width="0.8"/>
<line x1="377.85" y1="301.2" x2="381.45" y2="301.2" stroke="#333" stroke-width="0.9"/>
<line x1="379.65" y1="299.4" x2="379.65" y2="303" stroke="#333" stroke-width="0.9"/>
<line x1="384.35" y1="301.2" x2="387.95" y2="301.2" stroke="#333" stroke-width="0.9"/>
<line x1="386.15" y1="299.4" x2="386.15" y2="303" stroke="#333" stroke-width="0.9"/>
<line x1="390.85" y1="301.2" x2="394.45" y2="301.2" stroke="#333" stroke-width="0.9"/>
<line x1="392.65" y1="299.4" x2="392.65" y2="303" stroke="#333" stroke-width="0.9"/>
<line x1="352.75" y1="311.2" x2="354.55" y2="311.2" stroke="#444" stroke-width="0.8"/>
<line x1="359.25" y1="311.2" x2="361.05" y2="311.2" stroke="#444" stroke-width="0.8"/>
<line x1="365.75" y1="311.2" x2="367.55" y2="311.2" stroke="#444" stroke-width="0.8"/>
<line x1="371.35" y1="311.2" x2="374.95" y2="311.2" stroke="#333" stroke-width="0.9"/>
<line x1="373.15" y1="309.4" x2="373.15" y2="313" stroke="#333" stroke-width="0.9"/>
<line x1="378.75" y1="311.2" x2="380.55" y2="311.2" stroke="#444" stroke-width="0.8"/>
<line x1="384.35" y1="311.2" x2="387.95" y2="311.2" stroke="#333" stroke-width="0.9"/>
<line x1="386.15" y1="309.4" x2="386.15" y2="313" stroke="#333" stroke-width="0.9"/>
<line x1="390.85" y1="311.2" x2="394.45" y2="311.2" stroke="#333" stroke-width="0.9"/>
<line x1="392.65" y1="309.4" x2="392.65" y2="313" stroke="#333" stroke-width="0.9"/>
<line x1="352.75" y1="321.3" x2="354.55" y2="321.3" stroke="#444" stroke-width="0.8"/>
<line x1="359.25" y1="321.3" x2="361.05" y2="321.3" stroke="#444" stroke-width="0.8"/>
<line x1="364.85" y1="321.3" x2="368.45" y2="321.3" stroke="#333" stroke-width="0.9"/>
<line x1="366.65" y1="319.5" x2="366.65" y2="323.1" stroke="#333" stroke-width="0.9"/>
<line x1="372.25" y1="321.3" x2="374.05" y2="321.3" stroke="#444" stroke-width="0.8"/>
<line x1="377.85" y1="321.3" x2="381.45" y2="321.3" stroke="#333" stroke-width="0.9"/>
<line x1="379.65" y1="319.5" x2="379.65" y2="323.1" stroke="#333" stroke-width="0.9"/>
<line x1="385.25" y1="321.3" x2="387.05" y2="321.3" stroke="#444" stroke-width="0.8"/>
<line x1="390.85" y1="321.3" x2="394.45" y2="321.3" stroke="#333" stroke-width="0.9"/>
<line x1="392.65" y1="319.5" x2="392.65" y2="323.1" stroke="#333" stroke-width="0.9"/>
<line x1="402.7" y1="291.3" x2="404.5" y2="291.3" stroke="#444" stroke-width="0.8"/>
<line x1="409.2" y1="291.3" x2="411" y2="291.3" stroke="#444" stroke-width="0.8"/>
<line x1="415.7" y1="291.3" x2="417.5" y2="291.3" stroke="#444" stroke-width="0.8"/>
<line x1="422.2" y1="291.3" x2="424" y2="291.3" stroke="#444" stroke-width="0.8"/>
<line x1="428.7" y1="291.3" x2="430.5" y2="291.3" stroke="#444" stroke-width="0.8"/>
<line x1="435.2" y1="291.3" x2="437" y2="291.3" stroke="#444" stroke-width="0.8"/>
<line x1="441.7" y1="291.3" x2="443.5" y2="291.3" stroke="#444" stroke-width="0.8"/>
<line x1="402.7" y1="301.2" x2="404.5" y2="301.2" stroke="#444" stroke-width="0.8"/>
<line x1="408.3" y1="301.2" x2="411.9" y2="301.2" stroke="#333" stroke-width="0.9"/>
<line x1="410.1" y1="299.4" x2="410.1" y2="303" stroke="#333" stroke-width="0.9"/>
<line x1="415.7" y1="301.2" x2="417.5" y2="301.2" stroke="#444" stroke-width="0.8"/>
<line x1="422.2" y1="301.2" x2="424" y2="301.2" stroke="#444" stroke-width="0.8"/>
<line x1="427.8" y1="301.2" x2="431.4" y2="301.2" stroke="#333" stroke-width="0.9"/>
<line x1="429.6" y1="299.4" x2="429.6" y2="303" stroke="#333" stroke-width="0.9"/>
<line x1="434.3" y1="301.2" x2="437.9" y2="301.2" stroke="#333" stroke-width="0.9"/>
<line x1="436.1" y1="299.4" x2="436.1" y2="303" stroke="#333" stroke-width="0.9"/>
<line x1="440.8" y1="301.2" x2="444.4" y2="301.2" stroke="#333" stroke-width="0.9"/>
<line x1="442.6" y1="299.4" x2="442.6" y2="303" stroke="#333" stroke-width="0.9"/>
<line x1="402.7" y1="311.2" x2="404.5" y2="311.2" stroke="#444" stroke-width="0.8"/>
<line x1="409.2" y1="311.2" x2="411" y2="311.2" stroke="#444" stroke-width="0.8"/>
<line x1="415.7" y1="311.2" x2="417.5" y2="311.2" stroke="#444" stroke-width="0.8"/>
<line x1="421.3" y1="311.2" x2="424.9" y2="311.2" stroke="#333" stroke-width="0.9"/>
<line x1="423.1" y1="309.4" x2="423.1" y2="313" stroke="#333" stroke-width="0.9"/>
<line x1="428.7" y1="311.2" x2="430.5" y2="311.2" stroke="#444" stroke-width="0.8"/>
<line x1="434.3" y1="311.2" x2="437.9" y2="311.2" stroke="#333" stroke-width="0.9"/>
<line x1="436.1" y1="309.4" x2="436.1" y2="313" stroke="#333" stroke-width="0.9"/>
<line x1="440.8" y1="311.2" x2="444.4" y2="311.2" stroke="#333" stroke-width="0.9"/>
<line x1="442.6" y1="309.4" x2="442.6" y2="313" stroke="#333" stroke-width="0.9"/>
<line x1="402.7" y1="321.3" x2="404.5" y2="321.3" stroke="#444" stroke-width="0.8"/>
<line x1="409.2" y1="321.3" x2="411" y2="321.3" stroke="#444" stroke-width="0.8"/>
<line x1="414.8" y1="321.3" x2="418.4" y2="321.3" stroke="#333" stroke-width="0.9"/>
<line x1="416.6" y1="319.5" x2="416.6" y2="323.1" stroke="#333" stroke-width="0.9"/>
<line x1="422.2" y1="321.3" x2="424" y2="321.3" stroke="#444" stroke-width="0.8"/>
<line x1="427.8" y1="321.3" x2="431.4" y2="321.3" stroke="#333" stroke-width="0.9"/>
<line x1="429.6" y1="319.5" x2="429.6" y2="323.1" stroke="#333" stroke-width="0.9"/>
<line x1="435.2" y1="321.3" x2="437" y2="321.3" stroke="#444" stroke-width="0.8"/>
<line x1="440.8" y1="321.3" x2="444.4" y2="321.3" stroke="#333" stroke-width="0.9"/>
<line x1="442.6" y1="319.5" x2="442.6" y2="323.1" stroke="#333" stroke-width="0.9"/>
<line x1="451.75" y1="291.3" x2="455.35" y2="291.3" stroke="#333" stroke-width="0.9"/>
<line x1="453.55" y1="289.5" x2="453.55" y2="293.1" stroke="#333" stroke-width="0.9"/>
<line x1="458.25" y1="291.3" x2="461.85" y2="291.3" stroke="#333" stroke-width="0.9"/>
<line x1="460.05" y1="289.5" x2="460.05" y2="293.1" stroke="#333" stroke-width="0.9"/>
<line x1="464.75" y1="291.3" x2="468.35" y2="291.3" stroke="#333" stroke-width="0.9"/>
<line x1="466.55" y1="289.5" x2="466.55" y2="293.1" stroke="#333" stroke-width="0.9"/>
<line x1="471.25" y1="291.3" x2="474.85" y2="291.3" stroke="#333" stroke-width="0.9"/>
<line x1="473.05" y1="289.5" x2="473.05" y2="293.1" stroke="#333" stroke-width="0.9"/>
<line x1="477.75" y1="291.3" x2="481.35" y2="291.3" stroke="#333" stroke-width="0.9"/>
<line x1="479.55" y1="289.5" x2="479.55" y2="293.1" stroke="#333" stroke-width="0.9"/>
<line x1="484.25" y1="291.3" x2="487.85" y2="291.3" stroke="#333" stroke-width="0.9"/>
<line x1="486.05" y1="289.5" x2="486.05" y2="293.1" stroke="#333" stroke-width="0.9"/>
<line x1="490.75" y1="291.3" x2="494.35" y2="291.3" stroke="#333" stroke-width="0.9"/>
<line x1="492.55" y1="289.5" x2="492.55" y2="293.1" stroke="#333" stroke-width="0.9"/>
<line x1="452.65" y1="301.2" x2="454.45" y2="301.2" stroke="#444" stroke-width="0.8"/>
<line x1="458.25" y1="301.2" x2="461.85" y2="301.2" stroke="#333" stroke-width="0.9"/>
<line x1="460.05" y1="299.4" x2="460.05" y2="303" stroke="#333" stroke-width="0.9"/>
<line x1="465.65" y1="301.2" x2="467.45" y2="301.2" stroke="#444" stroke-width="0.8"/>
<line x1="472.15" y1="301.2" x2="473.95" y2="301.2" stroke="#444" stroke-width="0.8"/>
<line x1="477.75" y1="301.2" x2="481.35" y2="301.2" stroke="#333" stroke-width="0.9"/>
<line x1="479.55" y1="299.4" x2="479.55" y2="303" stroke="#333" stroke-width="0.9"/>
<line x1="484.25" y1="301.2" x2="487.85" y2="301.2" stroke="#333" stroke-width="0.9"/>
<line x1="486.05" y1="299.4" x2="486.05" y2="303" stroke="#333" stroke-width="0.9"/>
<line x1="490.75" y1="301.2" x2="494.35" y2="301.2" stroke="#333" stroke-width="0.9"/>
<line x1="492.55" y1="299.4" x2="492.55" y2="303" stroke="#333" stroke-width="0.9"/>
<line x1="452.65" y1="311.2" x2="454.45" y2="311.2" stroke="#444" stroke-width="0.8"/>
<line x1="459.15" y1="311.2" x2="460.95" y2="311.2" stroke="#444" stroke-width="0.8"/>
<line x1="465.65" y1="311.2" x2="467.45" y2="311.2" stroke="#444" stroke-width="0.8"/>
<line x1="471.25" y1="311.2" x2="474.85" y2="311.2" stroke="#333" stroke-width="0.9"/>
<line x1="473.05" y1="309.4" x2="473.05" y2="313" stroke="#333" stroke-width="0.9"/>
<line x1="478.65" y1="311.2" x2="480.45" y2="311.2" stroke="#444" stroke-width="0.8"/>
<line x1="484.25" y1="311.2" x2="487.85" y2="311.2" stroke="#333" stroke-width="0.9"/>
<line x1="486.05" y1="309.4" x2="486.05" y2="313" stroke="#333" stroke-width="0.9"/>
<line x1="490.75" y1="311.2" x2="494.35" y2="311.2" stroke="#333" stroke-width="0.9"/>
<line x1="492.55" y1="309.4" x2="492.55" y2="313" stroke="#333" stroke-width="0.9"/>
<line x1="452.65" y1="321.3" x2="454.45" y2="321.3" stroke="#444" stroke-width="0.8"/>
<line x1="459.15" y1="321.3" x2="460.95" y2="321.3" stroke="#444" stroke-width="0.8"/>
<line x1="464.75" y1="321.3" x2="468.35" y2="321.3" stroke="#333" stroke-width="0.9"/>
<line x1="466.55" y1="319.5" x2="466.55" y2="323.1" stroke="#333" stroke-width="0.9"/>
<line x1="472.15" y1="321.3" x2="473.95" y2="321.3" stroke="#444" stroke-width="0.8"/>
<line x1="477.75" y1="321.3" x2="481.35" y2="321.3" stroke="#333" stroke-width="0.9"/>
<line x1="479.55" y1="319.5" x2="479.55" y2="323.1" stroke="#333" stroke-width="0.9"/>
<line x1="485.15" y1="321.3" x2="486.95" y2="321.3" stroke="#444" stroke-width="0.8"/>
<line x1="490.75" y1="321.3" x2="494.35" y2="321.3" stroke="#333" stroke-width="0.9"/>
<line x1="492.55" y1="319.5" x2="492.55" y2="323.1" stroke="#333" stroke-width="0.9"/>
<rect x="304.2" y="46.5" width="208.6" height="12.1" fill="none" stroke="#222" stroke-width="1.1"/>
<line x1="304.2" y1="58.6" x2="512.8" y2="58.6" stroke="#222" stroke-width="1.4"/>
<line x1="408.4" y1="46.5" x2="408.4" y2="58.6" stroke="#222" stroke-width="1.1"/>
<text x="356.4" y="55.2" font-size="7.8" text-anchor="middle" textLength="8.6" lengthAdjust="spacingAndGlyphs" fill="#1e1e1e">wt</text>
<text x="451.3" y="54.9" font-size="7.8" textLength="10.4" lengthAdjust="spacingAndGlyphs" fill="#1e1e1e">Hjv</text>
<text x="461.9" y="54.2" font-size="5" textLength="7.4" lengthAdjust="spacingAndGlyphs" fill="#1e1e1e">-/-</text>
<text x="288.9" y="67.1" font-size="8" text-anchor="end" textLength="20.6" lengthAdjust="spacingAndGlyphs" fill="#111">pStat3</text>
<line x1="291.6" y1="65" x2="299.5" y2="65" stroke="#111" stroke-width="1.1"/>
<path d="M297.8 62.6 L302.8 65 L297.8 67.4 Z" fill="#111"/>
<text x="288.9" y="81.4" font-size="8" text-anchor="end" textLength="16.8" lengthAdjust="spacingAndGlyphs" fill="#111">Stat3</text>
<line x1="291.6" y1="79.1" x2="299.5" y2="79.1" stroke="#111" stroke-width="1.1"/>
<path d="M297.8 76.7 L302.8 79.1 L297.8 81.5 Z" fill="#111"/>
<text x="288.9" y="94.3" font-size="8" text-anchor="end" textLength="26.9" lengthAdjust="spacingAndGlyphs" fill="#111">pSmad5</text>
<line x1="291.6" y1="91.6" x2="299.5" y2="91.6" stroke="#111" stroke-width="1.1"/>
<path d="M297.8 89.2 L302.8 91.6 L297.8 94 Z" fill="#111"/>
<text x="288.9" y="107.2" font-size="8" text-anchor="end" textLength="22.2" lengthAdjust="spacingAndGlyphs" fill="#111">Smad1</text>
<line x1="291.6" y1="104.9" x2="299.5" y2="104.9" stroke="#111" stroke-width="1.1"/>
<path d="M297.8 102.5 L302.8 104.9 L297.8 107.3 Z" fill="#111"/>
<defs><filter id="bl" x="-50%" y="-100%" width="200%" height="300%"><feGaussianBlur stdDeviation="0.5"/></filter><filter id="bl2" x="-20%" y="-50%" width="140%" height="200%"><feGaussianBlur stdDeviation="0.7"/></filter></defs>
<rect x="304.6" y="61.2" width="102" height="9.4" fill="#f6f6f6" filter="url(#bl2)"/>
<rect x="409.2" y="61.2" width="101.6" height="9.4" fill="#f6f6f6" filter="url(#bl2)"/>
<rect x="304.6" y="72.8" width="102" height="10.4" fill="#f6f6f6" filter="url(#bl2)"/>
<rect x="409.2" y="72.8" width="101.6" height="10.4" fill="#f6f6f6" filter="url(#bl2)"/>
<rect x="304.6" y="85.9" width="102" height="11.6" fill="#f6f6f6" filter="url(#bl2)"/>
<rect x="409.2" y="85.9" width="101.6" height="11.6" fill="#f6f6f6" filter="url(#bl2)"/>
<rect x="304.6" y="99.3" width="102" height="12.3" fill="#f6f6f6" filter="url(#bl2)"/>
<rect x="409.2" y="99.3" width="101.6" height="12.3" fill="#f6f6f6" filter="url(#bl2)"/>
<rect x="308.4" y="63.79" width="5.2" height="1.63" rx="1.4" fill="#000" fill-opacity="0.19" filter="url(#bl)"/>
<rect x="315.43" y="63.4" width="5.2" height="2.4" rx="1.4" fill="#000" fill-opacity="1" filter="url(#bl)"/>
<rect x="322.46" y="63.79" width="5.2" height="1.61" rx="1.4" fill="#000" fill-opacity="0.15" filter="url(#bl)"/>
<rect x="329.49" y="63.74" width="5.2" height="1.73" rx="1.4" fill="#000" fill-opacity="0.36" filter="url(#bl)"/>
<rect x="336.52" y="63.42" width="5.2" height="2.36" rx="1.4" fill="#000" fill-opacity="1" filter="url(#bl)"/>
<rect x="343.55" y="63.5" width="5.2" height="2.19" rx="1.4" fill="#000" fill-opacity="0.9" filter="url(#bl)"/>
<rect x="350.58" y="63.53" width="5.2" height="2.15" rx="1.4" fill="#000" fill-opacity="0.86" filter="url(#bl)"/>
<rect x="357.61" y="63.78" width="5.2" height="1.64" rx="1.4" fill="#000" fill-opacity="0.22" filter="url(#bl)"/>
<rect x="364.64" y="63.46" width="5.2" height="2.27" rx="1.4" fill="#000" fill-opacity="0.98" filter="url(#bl)"/>
<rect x="371.67" y="63.77" width="5.2" height="1.66" rx="1.4" fill="#000" fill-opacity="0.25" filter="url(#bl)"/>
<rect x="378.7" y="63.71" width="5.2" height="1.77" rx="1.4" fill="#000" fill-opacity="0.42" filter="url(#bl)"/>
<rect x="385.73" y="63.44" width="5.2" height="2.32" rx="1.4" fill="#000" fill-opacity="1" filter="url(#bl)"/>
<rect x="392.76" y="63.42" width="5.2" height="2.36" rx="1.4" fill="#000" fill-opacity="1" filter="url(#bl)"/>
<rect x="399.79" y="63.42" width="5.2" height="2.36" rx="1.4" fill="#000" fill-opacity="1" filter="url(#bl)"/>
<rect x="412.3" y="64" width="5.4" height="1.8" rx="1.4" fill="#000" fill-opacity="0.25" filter="url(#bl)"/>
<rect x="419.19" y="63.65" width="5.4" height="2.51" rx="1.4" fill="#000" fill-opacity="1" filter="url(#bl)"/>
<rect x="426.08" y="63.92" width="5.4" height="1.96" rx="1.4" fill="#000" fill-opacity="0.47" filter="url(#bl)"/>
<rect x="432.97" y="63.9" width="5.4" height="2.01" rx="1.4" fill="#000" fill-opacity="0.53" filter="url(#bl)"/>
<rect x="439.86" y="63.67" width="5.4" height="2.46" rx="1.4" fill="#000" fill-opacity="0.98" filter="url(#bl)"/>
<rect x="446.75" y="63.67" width="5.4" height="2.46" rx="1.4" fill="#000" fill-opacity="0.98" filter="url(#bl)"/>
<rect x="453.64" y="63.67" width="5.4" height="2.46" rx="1.4" fill="#000" fill-opacity="0.98" filter="url(#bl)"/>
<rect x="460.53" y="63.94" width="5.4" height="1.92" rx="1.4" fill="#000" fill-opacity="0.42" filter="url(#bl)"/>
<rect x="467.42" y="63.65" width="5.4" height="2.51" rx="1.4" fill="#000" fill-opacity="1" filter="url(#bl)"/>
<rect x="474.31" y="63.92" width="5.4" height="1.96" rx="1.4" fill="#000" fill-opacity="0.47" filter="url(#bl)"/>
<rect x="481.2" y="63.92" width="5.4" height="1.96" rx="1.4" fill="#000" fill-opacity="0.47" filter="url(#bl)"/>
<rect x="488.09" y="63.67" width="5.4" height="2.46" rx="1.4" fill="#000" fill-opacity="0.98" filter="url(#bl)"/>
<rect x="494.98" y="63.65" width="5.4" height="2.51" rx="1.4" fill="#000" fill-opacity="1" filter="url(#bl)"/>
<rect x="501.87" y="63.65" width="5.4" height="2.51" rx="1.4" fill="#000" fill-opacity="1" filter="url(#bl)"/>
<rect x="308.35" y="76.73" width="4.9" height="1.74" rx="1.4" fill="#000" fill-opacity="0.47" filter="url(#bl)"/>
<rect x="308.85" y="79.8" width="3.9" height="1" fill="#000" fill-opacity="0.05" filter="url(#bl)"/>
<rect x="315.28" y="76.47" width="4.9" height="2.26" rx="1.4" fill="#000" fill-opacity="1" filter="url(#bl)"/>
<rect x="315.78" y="79.8" width="3.9" height="1" fill="#000" fill-opacity="0.17" filter="url(#bl)"/>
<rect x="322.21" y="76.67" width="4.9" height="1.86" rx="1.4" fill="#000" fill-opacity="0.63" filter="url(#bl)"/>
<rect x="322.71" y="79.8" width="3.9" height="1" fill="#000" fill-opacity="0.08" filter="url(#bl)"/>
<rect x="329.14" y="76.53" width="4.9" height="2.14" rx="1.4" fill="#000" fill-opacity="0.94" filter="url(#bl)"/>
<rect x="329.64" y="79.8" width="3.9" height="1" fill="#000" fill-opacity="0.14" filter="url(#bl)"/>
<rect x="336.07" y="76.63" width="4.9" height="1.94" rx="1.4" fill="#000" fill-opacity="0.72" filter="url(#bl)"/>
<rect x="336.57" y="79.8" width="3.9" height="1" fill="#000" fill-opacity="0.1" filter="url(#bl)"/>
<rect x="343" y="76.65" width="4.9" height="1.9" rx="1.4" fill="#000" fill-opacity="0.68" filter="url(#bl)"/>
<rect x="343.5" y="79.8" width="3.9" height="1" fill="#000" fill-opacity="0.09" filter="url(#bl)"/>
<rect x="349.93" y="76.65" width="4.9" height="1.9" rx="1.4" fill="#000" fill-opacity="0.68" filter="url(#bl)"/>
<rect x="350.43" y="79.8" width="3.9" height="1" fill="#000" fill-opacity="0.09" filter="url(#bl)"/>
<rect x="356.86" y="76.63" width="4.9" height="1.94" rx="1.4" fill="#000" fill-opacity="0.72" filter="url(#bl)"/>
<rect x="357.36" y="79.8" width="3.9" height="1" fill="#000" fill-opacity="0.1" filter="url(#bl)"/>
<rect x="363.79" y="76.55" width="4.9" height="2.1" rx="1.4" fill="#000" fill-opacity="0.9" filter="url(#bl)"/>
<rect x="364.29" y="79.8" width="3.9" height="1" fill="#000" fill-opacity="0.14" filter="url(#bl)"/>
<rect x="370.72" y="76.51" width="4.9" height="2.18" rx="1.4" fill="#000" fill-opacity="0.98" filter="url(#bl)"/>
<rect x="371.22" y="79.8" width="3.9" height="1" fill="#000" fill-opacity="0.15" filter="url(#bl)"/>
<rect x="377.65" y="76.47" width="4.9" height="2.26" rx="1.4" fill="#000" fill-opacity="1" filter="url(#bl)"/>
<rect x="378.15" y="79.8" width="3.9" height="1" fill="#000" fill-opacity="0.17" filter="url(#bl)"/>
<rect x="384.58" y="76.45" width="4.9" height="2.3" rx="1.4" fill="#000" fill-opacity="1" filter="url(#bl)"/>
<rect x="385.08" y="79.8" width="3.9" height="1" fill="#000" fill-opacity="0.18" filter="url(#bl)"/>
<rect x="391.51" y="76.45" width="4.9" height="2.3" rx="1.4" fill="#000" fill-opacity="1" filter="url(#bl)"/>
<rect x="392.01" y="79.8" width="3.9" height="1" fill="#000" fill-opacity="0.18" filter="url(#bl)"/>
<rect x="398.44" y="76.47" width="4.9" height="2.26" rx="1.4" fill="#000" fill-opacity="1" filter="url(#bl)"/>
<rect x="398.94" y="79.8" width="3.9" height="1" fill="#000" fill-opacity="0.17" filter="url(#bl)"/>
<rect x="412.9" y="76.31" width="5.2" height="1.98" rx="1.4" fill="#000" fill-opacity="0.58" filter="url(#bl)"/>
<rect x="413.4" y="79.5" width="4.2" height="1" fill="#000" fill-opacity="0.07" filter="url(#bl)"/>
<rect x="419.9" y="76.09" width="5.2" height="2.41" rx="1.4" fill="#000" fill-opacity="1" filter="url(#bl)"/>
<rect x="420.4" y="79.5" width="4.2" height="1" fill="#000" fill-opacity="0.16" filter="url(#bl)"/>
<rect x="426.9" y="76.16" width="5.2" height="2.28" rx="1.4" fill="#000" fill-opacity="0.9" filter="url(#bl)"/>
<rect x="427.4" y="79.5" width="4.2" height="1" fill="#000" fill-opacity="0.14" filter="url(#bl)"/>
<rect x="433.9" y="76.14" width="5.2" height="2.32" rx="1.4" fill="#000" fill-opacity="0.94" filter="url(#bl)"/>
<rect x="434.4" y="79.5" width="4.2" height="1" fill="#000" fill-opacity="0.14" filter="url(#bl)"/>
<rect x="440.9" y="76.14" width="5.2" height="2.32" rx="1.4" fill="#000" fill-opacity="0.94" filter="url(#bl)"/>
<rect x="441.4" y="79.5" width="4.2" height="1" fill="#000" fill-opacity="0.14" filter="url(#bl)"/>
<rect x="447.9" y="76.09" width="5.2" height="2.41" rx="1.4" fill="#000" fill-opacity="1" filter="url(#bl)"/>
<rect x="448.4" y="79.5" width="4.2" height="1" fill="#000" fill-opacity="0.16" filter="url(#bl)"/>
<rect x="454.9" y="76.09" width="5.2" height="2.41" rx="1.4" fill="#000" fill-opacity="1" filter="url(#bl)"/>
<rect x="455.4" y="79.5" width="4.2" height="1" fill="#000" fill-opacity="0.16" filter="url(#bl)"/>
<rect x="461.9" y="76.14" width="5.2" height="2.32" rx="1.4" fill="#000" fill-opacity="0.94" filter="url(#bl)"/>
<rect x="462.4" y="79.5" width="4.2" height="1" fill="#000" fill-opacity="0.14" filter="url(#bl)"/>
<rect x="468.9" y="76.05" width="5.2" height="2.5" rx="1.4" fill="#000" fill-opacity="1" filter="url(#bl)"/>
<rect x="469.4" y="79.5" width="4.2" height="1" fill="#000" fill-opacity="0.18" filter="url(#bl)"/>
<rect x="475.9" y="76.12" width="5.2" height="2.37" rx="1.4" fill="#000" fill-opacity="0.98" filter="url(#bl)"/>
<rect x="476.4" y="79.5" width="4.2" height="1" fill="#000" fill-opacity="0.15" filter="url(#bl)"/>
<rect x="482.9" y="76.12" width="5.2" height="2.37" rx="1.4" fill="#000" fill-opacity="0.98" filter="url(#bl)"/>
<rect x="483.4" y="79.5" width="4.2" height="1" fill="#000" fill-opacity="0.15" filter="url(#bl)"/>
<rect x="489.9" y="76.14" width="5.2" height="2.32" rx="1.4" fill="#000" fill-opacity="0.94" filter="url(#bl)"/>
<rect x="490.4" y="79.5" width="4.2" height="1" fill="#000" fill-opacity="0.14" filter="url(#bl)"/>
<rect x="496.9" y="76.09" width="5.2" height="2.41" rx="1.4" fill="#000" fill-opacity="1" filter="url(#bl)"/>
<rect x="497.4" y="79.5" width="4.2" height="1" fill="#000" fill-opacity="0.16" filter="url(#bl)"/>
<rect x="503.9" y="76.09" width="5.2" height="2.41" rx="1.4" fill="#000" fill-opacity="1" filter="url(#bl)"/>
<rect x="504.4" y="79.5" width="4.2" height="1" fill="#000" fill-opacity="0.16" filter="url(#bl)"/>
<rect x="308.2" y="89.3" width="5.6" height="1.9" rx="0.8" fill="#000" fill-opacity="0.44" filter="url(#bl)"/>
<rect x="308.2" y="91.6" width="5.6" height="1.9" rx="0.8" fill="#000" fill-opacity="0.44" filter="url(#bl)"/>
<rect x="315.17" y="89.3" width="5.6" height="1.9" rx="0.8" fill="#000" fill-opacity="0.61" filter="url(#bl)"/>
<rect x="315.17" y="91.6" width="5.6" height="1.9" rx="0.8" fill="#000" fill-opacity="0.61" filter="url(#bl)"/>
<rect x="322.14" y="89.3" width="5.6" height="1.9" rx="0.8" fill="#000" fill-opacity="0.78" filter="url(#bl)"/>
<rect x="322.14" y="91.6" width="5.6" height="1.9" rx="0.8" fill="#000" fill-opacity="0.78" filter="url(#bl)"/>
<rect x="322.09" y="89.87" width="5.71" height="3.07" rx="1.8" fill="#000" fill-opacity="0.7" filter="url(#bl)"/>
<rect x="329.11" y="89.3" width="5.6" height="1.9" rx="0.8" fill="#000" fill-opacity="1" filter="url(#bl)"/>
<rect x="329.11" y="91.6" width="5.6" height="1.9" rx="0.8" fill="#000" fill-opacity="1" filter="url(#bl)"/>
<rect x="328.96" y="89.45" width="5.9" height="3.9" rx="1.8" fill="#000" fill-opacity="1" filter="url(#bl)"/>
<rect x="336.08" y="89.3" width="5.6" height="1.9" rx="0.8" fill="#000" fill-opacity="1" filter="url(#bl)"/>
<rect x="336.08" y="91.6" width="5.6" height="1.9" rx="0.8" fill="#000" fill-opacity="1" filter="url(#bl)"/>
<rect x="335.93" y="89.45" width="5.9" height="3.9" rx="1.8" fill="#000" fill-opacity="1" filter="url(#bl)"/>
<rect x="343.05" y="89.3" width="5.6" height="1.9" rx="0.8" fill="#000" fill-opacity="0.96" filter="url(#bl)"/>
<rect x="343.05" y="91.6" width="5.6" height="1.9" rx="0.8" fill="#000" fill-opacity="0.96" filter="url(#bl)"/>
<rect x="342.92" y="89.52" width="5.87" height="3.77" rx="1.8" fill="#000" fill-opacity="1" filter="url(#bl)"/>
<rect x="350.02" y="89.3" width="5.6" height="1.9" rx="0.8" fill="#000" fill-opacity="0.93" filter="url(#bl)"/>
<rect x="350.02" y="91.6" width="5.6" height="1.9" rx="0.8" fill="#000" fill-opacity="0.93" filter="url(#bl)"/>
<rect x="349.9" y="89.58" width="5.84" height="3.64" rx="1.8" fill="#000" fill-opacity="1" filter="url(#bl)"/>
<rect x="356.99" y="89.3" width="5.6" height="1.9" rx="0.8" fill="#000" fill-opacity="0.47" filter="url(#bl)"/>
<rect x="356.99" y="91.6" width="5.6" height="1.9" rx="0.8" fill="#000" fill-opacity="0.47" filter="url(#bl)"/>
<rect x="363.96" y="89.3" width="5.6" height="1.9" rx="0.8" fill="#000" fill-opacity="0.44" filter="url(#bl)"/>
<rect x="363.96" y="91.6" width="5.6" height="1.9" rx="0.8" fill="#000" fill-opacity="0.44" filter="url(#bl)"/>
<rect x="370.93" y="89.3" width="5.6" height="1.9" rx="0.8" fill="#000" fill-opacity="0.96" filter="url(#bl)"/>
<rect x="370.93" y="91.6" width="5.6" height="1.9" rx="0.8" fill="#000" fill-opacity="0.96" filter="url(#bl)"/>
<rect x="370.8" y="89.52" width="5.87" height="3.77" rx="1.8" fill="#000" fill-opacity="1" filter="url(#bl)"/>
<rect x="377.9" y="89.3" width="5.6" height="1.9" rx="0.8" fill="#000" fill-opacity="1" filter="url(#bl)"/>
<rect x="377.9" y="91.6" width="5.6" height="1.9" rx="0.8" fill="#000" fill-opacity="1" filter="url(#bl)"/>
<rect x="377.75" y="89.45" width="5.9" height="3.9" rx="1.8" fill="#000" fill-opacity="1" filter="url(#bl)"/>
<rect x="384.87" y="89.3" width="5.6" height="1.9" rx="0.8" fill="#000" fill-opacity="1" filter="url(#bl)"/>
<rect x="384.87" y="91.6" width="5.6" height="1.9" rx="0.8" fill="#000" fill-opacity="1" filter="url(#bl)"/>
<rect x="384.72" y="89.45" width="5.9" height="3.9" rx="1.8" fill="#000" fill-opacity="1" filter="url(#bl)"/>
<rect x="391.84" y="89.3" width="5.6" height="1.9" rx="0.8" fill="#000" fill-opacity="1" filter="url(#bl)"/>
<rect x="391.84" y="91.6" width="5.6" height="1.9" rx="0.8" fill="#000" fill-opacity="1" filter="url(#bl)"/>
<rect x="391.69" y="89.45" width="5.9" height="3.9" rx="1.8" fill="#000" fill-opacity="1" filter="url(#bl)"/>
<rect x="398.81" y="89.3" width="5.6" height="1.9" rx="0.8" fill="#000" fill-opacity="1" filter="url(#bl)"/>
<rect x="398.81" y="91.6" width="5.6" height="1.9" rx="0.8" fill="#000" fill-opacity="1" filter="url(#bl)"/>
<rect x="398.66" y="89.45" width="5.9" height="3.9" rx="1.8" fill="#000" fill-opacity="1" filter="url(#bl)"/>
<rect x="413" y="88.3" width="5.4" height="1.9" rx="0.8" fill="#000" fill-opacity="0.47" filter="url(#bl)"/>
<rect x="413" y="90.6" width="5.4" height="1.9" rx="0.8" fill="#000" fill-opacity="0.47" filter="url(#bl)"/>
<rect x="419.98" y="88.3" width="5.4" height="1.9" rx="0.8" fill="#000" fill-opacity="0.58" filter="url(#bl)"/>
<rect x="419.98" y="90.6" width="5.4" height="1.9" rx="0.8" fill="#000" fill-opacity="0.58" filter="url(#bl)"/>
<rect x="426.96" y="88.3" width="5.4" height="1.9" rx="0.8" fill="#000" fill-opacity="0.58" filter="url(#bl)"/>
<rect x="426.96" y="90.6" width="5.4" height="1.9" rx="0.8" fill="#000" fill-opacity="0.58" filter="url(#bl)"/>
<rect x="433.94" y="88.3" width="5.4" height="1.9" rx="0.8" fill="#000" fill-opacity="0.82" filter="url(#bl)"/>
<rect x="433.94" y="90.6" width="5.4" height="1.9" rx="0.8" fill="#000" fill-opacity="0.82" filter="url(#bl)"/>
<rect x="433.87" y="88.78" width="5.55" height="3.25" rx="1.8" fill="#000" fill-opacity="0.88" filter="url(#bl)"/>
<rect x="440.92" y="88.3" width="5.4" height="1.9" rx="0.8" fill="#000" fill-opacity="0.51" filter="url(#bl)"/>
<rect x="440.92" y="90.6" width="5.4" height="1.9" rx="0.8" fill="#000" fill-opacity="0.51" filter="url(#bl)"/>
<rect x="447.9" y="88.3" width="5.4" height="1.9" rx="0.8" fill="#000" fill-opacity="0.9" filter="url(#bl)"/>
<rect x="447.9" y="90.6" width="5.4" height="1.9" rx="0.8" fill="#000" fill-opacity="0.9" filter="url(#bl)"/>
<rect x="447.8" y="88.65" width="5.61" height="3.51" rx="1.8" fill="#000" fill-opacity="1" filter="url(#bl)"/>
<rect x="454.88" y="88.3" width="5.4" height="1.9" rx="0.8" fill="#000" fill-opacity="0.93" filter="url(#bl)"/>
<rect x="454.88" y="90.6" width="5.4" height="1.9" rx="0.8" fill="#000" fill-opacity="0.93" filter="url(#bl)"/>
<rect x="454.76" y="88.58" width="5.64" height="3.64" rx="1.8" fill="#000" fill-opacity="1" filter="url(#bl)"/>
<rect x="461.86" y="88.3" width="5.4" height="1.9" rx="0.8" fill="#000" fill-opacity="0.58" filter="url(#bl)"/>
<rect x="461.86" y="90.6" width="5.4" height="1.9" rx="0.8" fill="#000" fill-opacity="0.58" filter="url(#bl)"/>
<rect x="468.84" y="88.3" width="5.4" height="1.9" rx="0.8" fill="#000" fill-opacity="0.72" filter="url(#bl)"/>
<rect x="468.84" y="90.6" width="5.4" height="1.9" rx="0.8" fill="#000" fill-opacity="0.72" filter="url(#bl)"/>
<rect x="468.81" y="88.97" width="5.46" height="2.86" rx="1.8" fill="#000" fill-opacity="0.5" filter="url(#bl)"/>
<rect x="475.82" y="88.3" width="5.4" height="1.9" rx="0.8" fill="#000" fill-opacity="0.58" filter="url(#bl)"/>
<rect x="475.82" y="90.6" width="5.4" height="1.9" rx="0.8" fill="#000" fill-opacity="0.58" filter="url(#bl)"/>
<rect x="482.8" y="88.3" width="5.4" height="1.9" rx="0.8" fill="#000" fill-opacity="0.86" filter="url(#bl)"/>
<rect x="482.8" y="90.6" width="5.4" height="1.9" rx="0.8" fill="#000" fill-opacity="0.86" filter="url(#bl)"/>
<rect x="482.71" y="88.71" width="5.58" height="3.38" rx="1.8" fill="#000" fill-opacity="1" filter="url(#bl)"/>
<rect x="489.78" y="88.3" width="5.4" height="1.9" rx="0.8" fill="#000" fill-opacity="0.54" filter="url(#bl)"/>
<rect x="489.78" y="90.6" width="5.4" height="1.9" rx="0.8" fill="#000" fill-opacity="0.54" filter="url(#bl)"/>
<rect x="496.76" y="88.3" width="5.4" height="1.9" rx="0.8" fill="#000" fill-opacity="1" filter="url(#bl)"/>
<rect x="496.76" y="90.6" width="5.4" height="1.9" rx="0.8" fill="#000" fill-opacity="1" filter="url(#bl)"/>
<rect x="496.61" y="88.45" width="5.7" height="3.9" rx="1.8" fill="#000" fill-opacity="1" filter="url(#bl)"/>
<rect x="503.74" y="88.3" width="5.4" height="1.9" rx="0.8" fill="#000" fill-opacity="1" filter="url(#bl)"/>
<rect x="503.74" y="90.6" width="5.4" height="1.9" rx="0.8" fill="#000" fill-opacity="1" filter="url(#bl)"/>
<rect x="503.59" y="88.45" width="5.7" height="3.9" rx="1.8" fill="#000" fill-opacity="1" filter="url(#bl)"/>
<rect x="307.55" y="103.55" width="6.5" height="3.3" rx="1.4" fill="#000" fill-opacity="1" filter="url(#bl)"/>
<rect x="314.47" y="103.55" width="6.5" height="3.3" rx="1.4" fill="#000" fill-opacity="1" filter="url(#bl)"/>
<rect x="321.39" y="103.55" width="6.5" height="3.3" rx="1.4" fill="#000" fill-opacity="1" filter="url(#bl)"/>
<rect x="328.31" y="103.55" width="6.5" height="3.3" rx="1.4" fill="#000" fill-opacity="1" filter="url(#bl)"/>
<rect x="335.23" y="103.55" width="6.5" height="3.3" rx="1.4" fill="#000" fill-opacity="1" filter="url(#bl)"/>
<rect x="342.15" y="103.55" width="6.5" height="3.3" rx="1.4" fill="#000" fill-opacity="1" filter="url(#bl)"/>
<rect x="349.07" y="103.55" width="6.5" height="3.3" rx="1.4" fill="#000" fill-opacity="1" filter="url(#bl)"/>
<rect x="355.99" y="103.55" width="6.5" height="3.3" rx="1.4" fill="#000" fill-opacity="1" filter="url(#bl)"/>
<rect x="362.91" y="103.55" width="6.5" height="3.3" rx="1.4" fill="#000" fill-opacity="1" filter="url(#bl)"/>
<rect x="369.83" y="103.55" width="6.5" height="3.3" rx="1.4" fill="#000" fill-opacity="1" filter="url(#bl)"/>
<rect x="376.75" y="103.55" width="6.5" height="3.3" rx="1.4" fill="#000" fill-opacity="1" filter="url(#bl)"/>
<rect x="383.67" y="103.55" width="6.5" height="3.3" rx="1.4" fill="#000" fill-opacity="1" filter="url(#bl)"/>
<rect x="390.59" y="103.55" width="6.5" height="3.3" rx="1.4" fill="#000" fill-opacity="1" filter="url(#bl)"/>
<rect x="397.51" y="103.55" width="6.5" height="3.3" rx="1.4" fill="#000" fill-opacity="1" filter="url(#bl)"/>
<rect x="411.55" y="102.95" width="6.9" height="3.3" rx="1.4" fill="#000" fill-opacity="1" filter="url(#bl)"/>
<rect x="418.53" y="102.95" width="6.9" height="3.3" rx="1.4" fill="#000" fill-opacity="1" filter="url(#bl)"/>
<rect x="425.51" y="102.95" width="6.9" height="3.3" rx="1.4" fill="#000" fill-opacity="1" filter="url(#bl)"/>
<rect x="432.49" y="102.95" width="6.9" height="3.3" rx="1.4" fill="#000" fill-opacity="1" filter="url(#bl)"/>
<rect x="439.47" y="102.95" width="6.9" height="3.3" rx="1.4" fill="#000" fill-opacity="1" filter="url(#bl)"/>
<rect x="446.45" y="102.95" width="6.9" height="3.3" rx="1.4" fill="#000" fill-opacity="1" filter="url(#bl)"/>
<rect x="453.43" y="102.95" width="6.9" height="3.3" rx="1.4" fill="#000" fill-opacity="1" filter="url(#bl)"/>
<rect x="460.41" y="102.95" width="6.9" height="3.3" rx="1.4" fill="#000" fill-opacity="1" filter="url(#bl)"/>
<rect x="467.39" y="102.95" width="6.9" height="3.3" rx="1.4" fill="#000" fill-opacity="1" filter="url(#bl)"/>
<rect x="474.37" y="102.95" width="6.9" height="3.3" rx="1.4" fill="#000" fill-opacity="1" filter="url(#bl)"/>
<rect x="481.35" y="102.95" width="6.9" height="3.3" rx="1.4" fill="#000" fill-opacity="1" filter="url(#bl)"/>
<rect x="488.33" y="102.95" width="6.9" height="3.3" rx="1.4" fill="#000" fill-opacity="1" filter="url(#bl)"/>
<rect x="495.31" y="102.95" width="6.9" height="3.3" rx="1.4" fill="#000" fill-opacity="1" filter="url(#bl)"/>
<rect x="502.29" y="102.95" width="6.9" height="3.3" rx="1.4" fill="#000" fill-opacity="1" filter="url(#bl)"/>
<rect x="410.5" y="103.4" width="6" height="2.4" rx="1" fill="#000" fill-opacity="0.8" filter="url(#bl)"/>
<rect x="304.6" y="115.6" width="208.7" height="38.1" fill="none" stroke="#262626" stroke-width="1"/>
<line x1="304.6" y1="124.2" x2="513.3" y2="124.2" stroke="#2a2a2a" stroke-width="1.3"/>
<line x1="356.4" y1="115.6" x2="356.4" y2="153.7" stroke="#262626" stroke-width="1"/>
<line x1="408.8" y1="115.6" x2="408.8" y2="153.7" stroke="#262626" stroke-width="1"/>
<line x1="461.3" y1="115.6" x2="461.3" y2="153.7" stroke="#262626" stroke-width="1"/>
<text x="300" y="122" font-size="8.8" text-anchor="end" textLength="23" lengthAdjust="spacingAndGlyphs" fill="#1e1e1e">holo-Tf</text>
<text x="300" y="132.2" font-size="8.8" text-anchor="end" textLength="11.7" lengthAdjust="spacingAndGlyphs" fill="#1e1e1e">IL-6</text>
<text x="300" y="142.2" font-size="8.8" text-anchor="end" textLength="18.8" lengthAdjust="spacingAndGlyphs" fill="#1e1e1e">BMP2</text>
<text x="300" y="152.2" font-size="8.8" text-anchor="end" textLength="18.8" lengthAdjust="spacingAndGlyphs" fill="#1e1e1e">BMP6</text>
<line x1="309.5" y1="119.4" x2="311.3" y2="119.4" stroke="#444" stroke-width="0.8"/>
<line x1="316.48" y1="119.4" x2="318.28" y2="119.4" stroke="#444" stroke-width="0.8"/>
<line x1="323.46" y1="119.4" x2="325.26" y2="119.4" stroke="#444" stroke-width="0.8"/>
<line x1="330.44" y1="119.4" x2="332.24" y2="119.4" stroke="#444" stroke-width="0.8"/>
<line x1="337.42" y1="119.4" x2="339.22" y2="119.4" stroke="#444" stroke-width="0.8"/>
<line x1="344.4" y1="119.4" x2="346.2" y2="119.4" stroke="#444" stroke-width="0.8"/>
<line x1="351.38" y1="119.4" x2="353.18" y2="119.4" stroke="#444" stroke-width="0.8"/>
<line x1="309.5" y1="129.6" x2="311.3" y2="129.6" stroke="#444" stroke-width="0.8"/>
<line x1="315.58" y1="129.6" x2="319.18" y2="129.6" stroke="#333" stroke-width="0.9"/>
<line x1="317.38" y1="127.8" x2="317.38" y2="131.4" stroke="#333" stroke-width="0.9"/>
<line x1="323.46" y1="129.6" x2="325.26" y2="129.6" stroke="#444" stroke-width="0.8"/>
<line x1="330.44" y1="129.6" x2="332.24" y2="129.6" stroke="#444" stroke-width="0.8"/>
<line x1="336.52" y1="129.6" x2="340.12" y2="129.6" stroke="#333" stroke-width="0.9"/>
<line x1="338.32" y1="127.8" x2="338.32" y2="131.4" stroke="#333" stroke-width="0.9"/>
<line x1="343.5" y1="129.6" x2="347.1" y2="129.6" stroke="#333" stroke-width="0.9"/>
<line x1="345.3" y1="127.8" x2="345.3" y2="131.4" stroke="#333" stroke-width="0.9"/>
<line x1="350.48" y1="129.6" x2="354.08" y2="129.6" stroke="#333" stroke-width="0.9"/>
<line x1="352.28" y1="127.8" x2="352.28" y2="131.4" stroke="#333" stroke-width="0.9"/>
<line x1="309.5" y1="139.6" x2="311.3" y2="139.6" stroke="#444" stroke-width="0.8"/>
<line x1="316.48" y1="139.6" x2="318.28" y2="139.6" stroke="#444" stroke-width="0.8"/>
<line x1="323.46" y1="139.6" x2="325.26" y2="139.6" stroke="#444" stroke-width="0.8"/>
<line x1="329.54" y1="139.6" x2="333.14" y2="139.6" stroke="#333" stroke-width="0.9"/>
<line x1="331.34" y1="137.8" x2="331.34" y2="141.4" stroke="#333" stroke-width="0.9"/>
<line x1="337.42" y1="139.6" x2="339.22" y2="139.6" stroke="#444" stroke-width="0.8"/>
<line x1="343.5" y1="139.6" x2="347.1" y2="139.6" stroke="#333" stroke-width="0.9"/>
<line x1="345.3" y1="137.8" x2="345.3" y2="141.4" stroke="#333" stroke-width="0.9"/>
<line x1="350.48" y1="139.6" x2="354.08" y2="139.6" stroke="#333" stroke-width="0.9"/>
<line x1="352.28" y1="137.8" x2="352.28" y2="141.4" stroke="#333" stroke-width="0.9"/>
<line x1="309.5" y1="149.6" x2="311.3" y2="149.6" stroke="#444" stroke-width="0.8"/>
<line x1="316.48" y1="149.6" x2="318.28" y2="149.6" stroke="#444" stroke-width="0.8"/>
<line x1="322.56" y1="149.6" x2="326.16" y2="149.6" stroke="#333" stroke-width="0.9"/>
<line x1="324.36" y1="147.8" x2="324.36" y2="151.4" stroke="#333" stroke-width="0.9"/>
<line x1="330.44" y1="149.6" x2="332.24" y2="149.6" stroke="#444" stroke-width="0.8"/>
<line x1="336.52" y1="149.6" x2="340.12" y2="149.6" stroke="#333" stroke-width="0.9"/>
<line x1="338.32" y1="147.8" x2="338.32" y2="151.4" stroke="#333" stroke-width="0.9"/>
<line x1="344.4" y1="149.6" x2="346.2" y2="149.6" stroke="#444" stroke-width="0.8"/>
<line x1="350.48" y1="149.6" x2="354.08" y2="149.6" stroke="#333" stroke-width="0.9"/>
<line x1="352.28" y1="147.8" x2="352.28" y2="151.4" stroke="#333" stroke-width="0.9"/>
<line x1="358" y1="119.4" x2="361.6" y2="119.4" stroke="#333" stroke-width="0.9"/>
<line x1="359.8" y1="117.6" x2="359.8" y2="121.2" stroke="#333" stroke-width="0.9"/>
<line x1="364.95" y1="119.4" x2="368.55" y2="119.4" stroke="#333" stroke-width="0.9"/>
<line x1="366.75" y1="117.6" x2="366.75" y2="121.2" stroke="#333" stroke-width="0.9"/>
<line x1="371.9" y1="119.4" x2="375.5" y2="119.4" stroke="#333" stroke-width="0.9"/>
<line x1="373.7" y1="117.6" x2="373.7" y2="121.2" stroke="#333" stroke-width="0.9"/>
<line x1="378.85" y1="119.4" x2="382.45" y2="119.4" stroke="#333" stroke-width="0.9"/>
<line x1="380.65" y1="117.6" x2="380.65" y2="121.2" stroke="#333" stroke-width="0.9"/>
<line x1="385.8" y1="119.4" x2="389.4" y2="119.4" stroke="#333" stroke-width="0.9"/>
<line x1="387.6" y1="117.6" x2="387.6" y2="121.2" stroke="#333" stroke-width="0.9"/>
<line x1="392.75" y1="119.4" x2="396.35" y2="119.4" stroke="#333" stroke-width="0.9"/>
<line x1="394.55" y1="117.6" x2="394.55" y2="121.2" stroke="#333" stroke-width="0.9"/>
<line x1="399.7" y1="119.4" x2="403.3" y2="119.4" stroke="#333" stroke-width="0.9"/>
<line x1="401.5" y1="117.6" x2="401.5" y2="121.2" stroke="#333" stroke-width="0.9"/>
<line x1="358.9" y1="129.6" x2="360.7" y2="129.6" stroke="#444" stroke-width="0.8"/>
<line x1="364.95" y1="129.6" x2="368.55" y2="129.6" stroke="#333" stroke-width="0.9"/>
<line x1="366.75" y1="127.8" x2="366.75" y2="131.4" stroke="#333" stroke-width="0.9"/>
<line x1="372.8" y1="129.6" x2="374.6" y2="129.6" stroke="#444" stroke-width="0.8"/>
<line x1="379.75" y1="129.6" x2="381.55" y2="129.6" stroke="#444" stroke-width="0.8"/>
<line x1="385.8" y1="129.6" x2="389.4" y2="129.6" stroke="#333" stroke-width="0.9"/>
<line x1="387.6" y1="127.8" x2="387.6" y2="131.4" stroke="#333" stroke-width="0.9"/>
<line x1="392.75" y1="129.6" x2="396.35" y2="129.6" stroke="#333" stroke-width="0.9"/>
<line x1="394.55" y1="127.8" x2="394.55" y2="131.4" stroke="#333" stroke-width="0.9"/>
<line x1="399.7" y1="129.6" x2="403.3" y2="129.6" stroke="#333" stroke-width="0.9"/>
<line x1="401.5" y1="127.8" x2="401.5" y2="131.4" stroke="#333" stroke-width="0.9"/>
<line x1="358.9" y1="139.6" x2="360.7" y2="139.6" stroke="#444" stroke-width="0.8"/>
<line x1="365.85" y1="139.6" x2="367.65" y2="139.6" stroke="#444" stroke-width="0.8"/>
<line x1="372.8" y1="139.6" x2="374.6" y2="139.6" stroke="#444" stroke-width="0.8"/>
<line x1="378.85" y1="139.6" x2="382.45" y2="139.6" stroke="#333" stroke-width="0.9"/>
<line x1="380.65" y1="137.8" x2="380.65" y2="141.4" stroke="#333" stroke-width="0.9"/>
<line x1="386.7" y1="139.6" x2="388.5" y2="139.6" stroke="#444" stroke-width="0.8"/>
<line x1="392.75" y1="139.6" x2="396.35" y2="139.6" stroke="#333" stroke-width="0.9"/>
<line x1="394.55" y1="137.8" x2="394.55" y2="141.4" stroke="#333" stroke-width="0.9"/>
<line x1="399.7" y1="139.6" x2="403.3" y2="139.6" stroke="#333" stroke-width="0.9"/>
<line x1="401.5" y1="137.8" x2="401.5" y2="141.4" stroke="#333" stroke-width="0.9"/>
<line x1="358.9" y1="149.6" x2="360.7" y2="149.6" stroke="#444" stroke-width="0.8"/>
<line x1="365.85" y1="149.6" x2="367.65" y2="149.6" stroke="#444" stroke-width="0.8"/>
<line x1="371.9" y1="149.6" x2="375.5" y2="149.6" stroke="#333" stroke-width="0.9"/>
<line x1="373.7" y1="147.8" x2="373.7" y2="151.4" stroke="#333" stroke-width="0.9"/>
<line x1="379.75" y1="149.6" x2="381.55" y2="149.6" stroke="#444" stroke-width="0.8"/>
<line x1="385.8" y1="149.6" x2="389.4" y2="149.6" stroke="#333" stroke-width="0.9"/>
<line x1="387.6" y1="147.8" x2="387.6" y2="151.4" stroke="#333" stroke-width="0.9"/>
<line x1="393.65" y1="149.6" x2="395.45" y2="149.6" stroke="#444" stroke-width="0.8"/>
<line x1="399.7" y1="149.6" x2="403.3" y2="149.6" stroke="#333" stroke-width="0.9"/>
<line x1="401.5" y1="147.8" x2="401.5" y2="151.4" stroke="#333" stroke-width="0.9"/>
<line x1="414.1" y1="119.4" x2="415.9" y2="119.4" stroke="#444" stroke-width="0.8"/>
<line x1="421.35" y1="119.4" x2="423.15" y2="119.4" stroke="#444" stroke-width="0.8"/>
<line x1="428.6" y1="119.4" x2="430.4" y2="119.4" stroke="#444" stroke-width="0.8"/>
<line x1="435.85" y1="119.4" x2="437.65" y2="119.4" stroke="#444" stroke-width="0.8"/>
<line x1="443.1" y1="119.4" x2="444.9" y2="119.4" stroke="#444" stroke-width="0.8"/>
<line x1="450.35" y1="119.4" x2="452.15" y2="119.4" stroke="#444" stroke-width="0.8"/>
<line x1="457.6" y1="119.4" x2="459.4" y2="119.4" stroke="#444" stroke-width="0.8"/>
<line x1="414.1" y1="129.6" x2="415.9" y2="129.6" stroke="#444" stroke-width="0.8"/>
<line x1="420.45" y1="129.6" x2="424.05" y2="129.6" stroke="#333" stroke-width="0.9"/>
<line x1="422.25" y1="127.8" x2="422.25" y2="131.4" stroke="#333" stroke-width="0.9"/>
<line x1="428.6" y1="129.6" x2="430.4" y2="129.6" stroke="#444" stroke-width="0.8"/>
<line x1="435.85" y1="129.6" x2="437.65" y2="129.6" stroke="#444" stroke-width="0.8"/>
<line x1="442.2" y1="129.6" x2="445.8" y2="129.6" stroke="#333" stroke-width="0.9"/>
<line x1="444" y1="127.8" x2="444" y2="131.4" stroke="#333" stroke-width="0.9"/>
<line x1="449.45" y1="129.6" x2="453.05" y2="129.6" stroke="#333" stroke-width="0.9"/>
<line x1="451.25" y1="127.8" x2="451.25" y2="131.4" stroke="#333" stroke-width="0.9"/>
<line x1="456.7" y1="129.6" x2="460.3" y2="129.6" stroke="#333" stroke-width="0.9"/>
<line x1="458.5" y1="127.8" x2="458.5" y2="131.4" stroke="#333" stroke-width="0.9"/>
<line x1="414.1" y1="139.6" x2="415.9" y2="139.6" stroke="#444" stroke-width="0.8"/>
<line x1="421.35" y1="139.6" x2="423.15" y2="139.6" stroke="#444" stroke-width="0.8"/>
<line x1="428.6" y1="139.6" x2="430.4" y2="139.6" stroke="#444" stroke-width="0.8"/>
<line x1="434.95" y1="139.6" x2="438.55" y2="139.6" stroke="#333" stroke-width="0.9"/>
<line x1="436.75" y1="137.8" x2="436.75" y2="141.4" stroke="#333" stroke-width="0.9"/>
<line x1="443.1" y1="139.6" x2="444.9" y2="139.6" stroke="#444" stroke-width="0.8"/>
<line x1="449.45" y1="139.6" x2="453.05" y2="139.6" stroke="#333" stroke-width="0.9"/>
<line x1="451.25" y1="137.8" x2="451.25" y2="141.4" stroke="#333" stroke-width="0.9"/>
<line x1="456.7" y1="139.6" x2="460.3" y2="139.6" stroke="#333" stroke-width="0.9"/>
<line x1="458.5" y1="137.8" x2="458.5" y2="141.4" stroke="#333" stroke-width="0.9"/>
<line x1="414.1" y1="149.6" x2="415.9" y2="149.6" stroke="#444" stroke-width="0.8"/>
<line x1="421.35" y1="149.6" x2="423.15" y2="149.6" stroke="#444" stroke-width="0.8"/>
<line x1="427.7" y1="149.6" x2="431.3" y2="149.6" stroke="#333" stroke-width="0.9"/>
<line x1="429.5" y1="147.8" x2="429.5" y2="151.4" stroke="#333" stroke-width="0.9"/>
<line x1="435.85" y1="149.6" x2="437.65" y2="149.6" stroke="#444" stroke-width="0.8"/>
<line x1="442.2" y1="149.6" x2="445.8" y2="149.6" stroke="#333" stroke-width="0.9"/>
<line x1="444" y1="147.8" x2="444" y2="151.4" stroke="#333" stroke-width="0.9"/>
<line x1="450.35" y1="149.6" x2="452.15" y2="149.6" stroke="#444" stroke-width="0.8"/>
<line x1="456.7" y1="149.6" x2="460.3" y2="149.6" stroke="#333" stroke-width="0.9"/>
<line x1="458.5" y1="147.8" x2="458.5" y2="151.4" stroke="#333" stroke-width="0.9"/>
<line x1="463.4" y1="119.4" x2="467" y2="119.4" stroke="#333" stroke-width="0.9"/>
<line x1="465.2" y1="117.6" x2="465.2" y2="121.2" stroke="#333" stroke-width="0.9"/>
<line x1="470.28" y1="119.4" x2="473.88" y2="119.4" stroke="#333" stroke-width="0.9"/>
<line x1="472.08" y1="117.6" x2="472.08" y2="121.2" stroke="#333" stroke-width="0.9"/>
<line x1="477.16" y1="119.4" x2="480.76" y2="119.4" stroke="#333" stroke-width="0.9"/>
<line x1="478.96" y1="117.6" x2="478.96" y2="121.2" stroke="#333" stroke-width="0.9"/>
<line x1="484.04" y1="119.4" x2="487.64" y2="119.4" stroke="#333" stroke-width="0.9"/>
<line x1="485.84" y1="117.6" x2="485.84" y2="121.2" stroke="#333" stroke-width="0.9"/>
<line x1="490.92" y1="119.4" x2="494.52" y2="119.4" stroke="#333" stroke-width="0.9"/>
<line x1="492.72" y1="117.6" x2="492.72" y2="121.2" stroke="#333" stroke-width="0.9"/>
<line x1="497.8" y1="119.4" x2="501.4" y2="119.4" stroke="#333" stroke-width="0.9"/>
<line x1="499.6" y1="117.6" x2="499.6" y2="121.2" stroke="#333" stroke-width="0.9"/>
<line x1="504.68" y1="119.4" x2="508.28" y2="119.4" stroke="#333" stroke-width="0.9"/>
<line x1="506.48" y1="117.6" x2="506.48" y2="121.2" stroke="#333" stroke-width="0.9"/>
<line x1="464.3" y1="129.6" x2="466.1" y2="129.6" stroke="#444" stroke-width="0.8"/>
<line x1="470.28" y1="129.6" x2="473.88" y2="129.6" stroke="#333" stroke-width="0.9"/>
<line x1="472.08" y1="127.8" x2="472.08" y2="131.4" stroke="#333" stroke-width="0.9"/>
<line x1="478.06" y1="129.6" x2="479.86" y2="129.6" stroke="#444" stroke-width="0.8"/>
<line x1="484.94" y1="129.6" x2="486.74" y2="129.6" stroke="#444" stroke-width="0.8"/>
<line x1="490.92" y1="129.6" x2="494.52" y2="129.6" stroke="#333" stroke-width="0.9"/>
<line x1="492.72" y1="127.8" x2="492.72" y2="131.4" stroke="#333" stroke-width="0.9"/>
<line x1="497.8" y1="129.6" x2="501.4" y2="129.6" stroke="#333" stroke-width="0.9"/>
<line x1="499.6" y1="127.8" x2="499.6" y2="131.4" stroke="#333" stroke-width="0.9"/>
<line x1="504.68" y1="129.6" x2="508.28" y2="129.6" stroke="#333" stroke-width="0.9"/>
<line x1="506.48" y1="127.8" x2="506.48" y2="131.4" stroke="#333" stroke-width="0.9"/>
<line x1="464.3" y1="139.6" x2="466.1" y2="139.6" stroke="#444" stroke-width="0.8"/>
<line x1="471.18" y1="139.6" x2="472.98" y2="139.6" stroke="#444" stroke-width="0.8"/>
<line x1="478.06" y1="139.6" x2="479.86" y2="139.6" stroke="#444" stroke-width="0.8"/>
<line x1="484.04" y1="139.6" x2="487.64" y2="139.6" stroke="#333" stroke-width="0.9"/>
<line x1="485.84" y1="137.8" x2="485.84" y2="141.4" stroke="#333" stroke-width="0.9"/>
<line x1="491.82" y1="139.6" x2="493.62" y2="139.6" stroke="#444" stroke-width="0.8"/>
<line x1="497.8" y1="139.6" x2="501.4" y2="139.6" stroke="#333" stroke-width="0.9"/>
<line x1="499.6" y1="137.8" x2="499.6" y2="141.4" stroke="#333" stroke-width="0.9"/>
<line x1="504.68" y1="139.6" x2="508.28" y2="139.6" stroke="#333" stroke-width="0.9"/>
<line x1="506.48" y1="137.8" x2="506.48" y2="141.4" stroke="#333" stroke-width="0.9"/>
<line x1="464.3" y1="149.6" x2="466.1" y2="149.6" stroke="#444" stroke-width="0.8"/>
<line x1="471.18" y1="149.6" x2="472.98" y2="149.6" stroke="#444" stroke-width="0.8"/>
<line x1="477.16" y1="149.6" x2="480.76" y2="149.6" stroke="#333" stroke-width="0.9"/>
<line x1="478.96" y1="147.8" x2="478.96" y2="151.4" stroke="#333" stroke-width="0.9"/>
<line x1="484.94" y1="149.6" x2="486.74" y2="149.6" stroke="#444" stroke-width="0.8"/>
<line x1="490.92" y1="149.6" x2="494.52" y2="149.6" stroke="#333" stroke-width="0.9"/>
<line x1="492.72" y1="147.8" x2="492.72" y2="151.4" stroke="#333" stroke-width="0.9"/>
<line x1="498.7" y1="149.6" x2="500.5" y2="149.6" stroke="#444" stroke-width="0.8"/>
<line x1="504.68" y1="149.6" x2="508.28" y2="149.6" stroke="#333" stroke-width="0.9"/>
<line x1="506.48" y1="147.8" x2="506.48" y2="151.4" stroke="#333" stroke-width="0.9"/>
</svg>
</body></html>
